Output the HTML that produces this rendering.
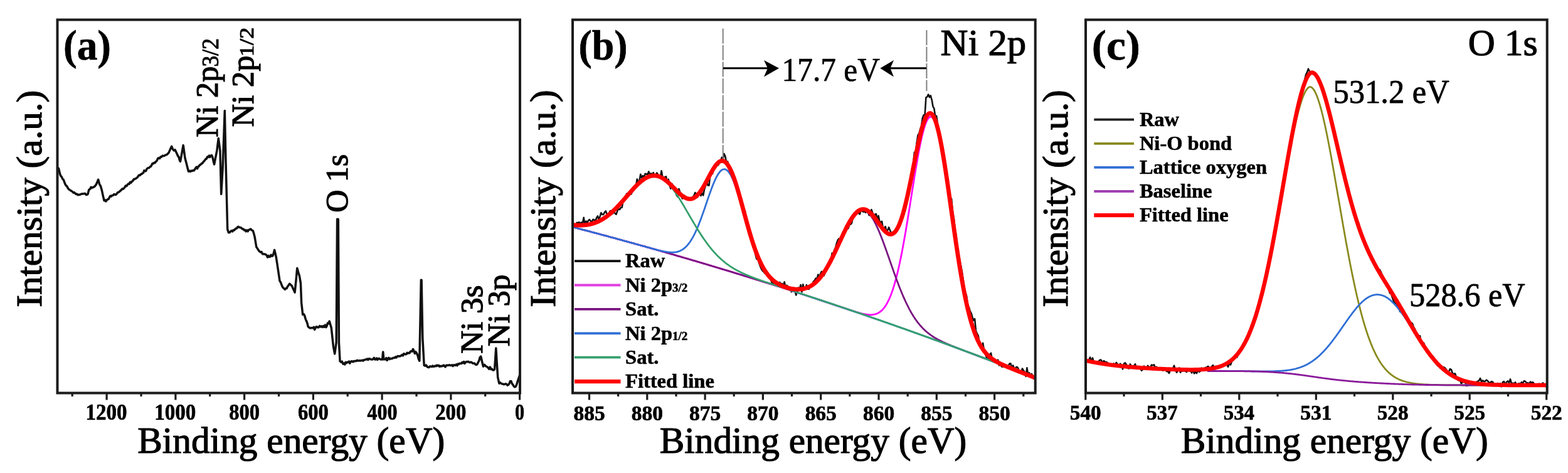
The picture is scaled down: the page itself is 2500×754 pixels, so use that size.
<!DOCTYPE html>
<html><head><meta charset="utf-8"><title>XPS spectra</title>
<style>
html,body{margin:0;padding:0;background:#fff;}
body{width:2500px;height:754px;overflow:hidden;}
svg{display:block;filter:blur(0.45px);}
text{fill:#000;stroke:#000;stroke-linejoin:round;}
.r{font-family:"Liberation Serif","Times New Roman",serif;font-weight:normal;}
.b{font-family:"Liberation Serif","Times New Roman",serif;font-weight:bold;}
.lg{font-family:"Liberation Serif","Times New Roman",serif;font-weight:bold;font-size:32.5px;}
.sub{font-size:19px;}
</style></head><body>
<svg width="2500" height="754" viewBox="0 0 2500 754">
<rect width="100%" height="100%" fill="#fff"/>
<clipPath id="clipa"><rect x="91.5" y="31.5" width="737.5" height="595.0"/></clipPath>
<clipPath id="clipb"><rect x="913.0" y="31.5" width="737.7" height="595.0"/></clipPath>
<clipPath id="clipc"><rect x="1731.0" y="31.5" width="735.6999999999998" height="595.0"/></clipPath>
<g id="curves">
<polyline clip-path="url(#clipa)" fill="none" stroke="#111" stroke-width="3.5" stroke-linejoin="round" points="90,265 91.8,267.1 93.5,268.5 95.5,277 96.8,280.3 98.2,281.7 99.8,285.2 101.3,286.5 102.9,291 104.3,294.3 105.7,296.1 107,297.3 108.4,300.2 109.9,302 111.4,302.8 112.8,303.9 114.3,304.7 115.8,305.8 117.2,307.3 118.6,306.8 120,308.4 121.4,309.5 122.8,309.2 124.2,310.7 125.6,310.3 127,310.5 128.5,309.8 130,308.9 131.4,309.1 132.9,309 134.4,308.6 135.8,308.5 137.2,310.5 138.6,310.4 140,309.5 141.8,302.4 143.7,301.2 145.1,298.4 146.5,299.6 147.9,298.6 149.3,298.4 151.2,296.8 153,294.7 154.8,290.7 156.7,286.3 158.6,293.7 160.4,296.5 162.2,302.7 164.1,311.4 166,319.7 167.4,318.8 168.8,321 170.1,319.1 171.5,317.9 173,317.3 174.5,314.7 176,312.2 177.5,312.9 179,311.4 180.4,311.3 181.8,309.6 183.1,310 184.5,310.5 186,309.1 187.5,306.9 189,306.5 190.5,305.4 192,304 193.4,302.9 194.8,301.1 196.2,301.2 197.6,300.3 198.9,298.5 200.3,296.1 201.7,296.7 203.1,294.7 204.6,293 206.1,293.4 207.5,290.2 209,291.2 210.5,289.1 212,288 213.5,285.5 215,285.4 216.5,284.7 218,283.5 219.3,282.7 220.6,280.3 221.9,279.1 223.3,279.5 224.6,277.7 225.9,277.4 227.2,276.1 228.5,275.7 229.9,271.9 231.2,272.8 232.5,272.7 233.8,269.8 235.2,268.1 236.5,267.8 237.8,267.5 239.2,265.8 240.5,265.4 241.9,262.8 243.2,260.4 244.6,260.8 245.9,259.3 247.3,259.5 248.6,257.5 250.1,256.2 251.6,252.7 253,251.7 254.5,252.6 256,250.1 257.5,250.3 259,248.3 260.4,248.4 261.9,248.4 263.4,247.3 264.8,246.9 266.2,246.4 267.6,244.8 269,243.6 270.5,240.1 272.1,236.5 273.6,233.4 275.5,237.8 277.3,239.9 279.1,238.8 281,242.7 282.3,245.5 283.6,248.7 284.9,250 286.2,254.9 287.5,257.5 289.1,248.9 290.6,240.2 292.2,231.6 293.6,241.8 295,252 296.4,257.3 297.8,262.6 299.1,268 300.5,273.3 302,272.2 303.5,273.5 305,272.1 306.5,272.6 308,271.5 309.3,271.9 310.6,270.1 311.9,267.8 313.3,266.1 314.6,268.8 315.9,265.8 317.2,265 318.5,262.9 319.9,262.5 321.2,260.8 322.5,260.6 323.8,258.4 325.2,257 326.5,255.7 327.9,253.4 329.3,253.2 330.6,250 332,250.4 333.4,248.1 334.8,250.5 336.2,247.9 337.6,247.6 339,251 340.3,257.2 341.6,262 343,254.6 344.5,247.2 345.9,239.8 348.3,220.5 350.9,240 352.7,309.5 355.1,267.7 356.7,222.1 358.3,176.5 359.9,253.7 361.3,309.5 362.7,365.4 364.4,370.8 366.1,370.6 367.6,368.8 369.1,367.7 370.6,369 372.1,366.7 373.6,366.9 374.9,365.2 376.2,364.3 377.5,364.1 378.8,362 380.1,361.3 381.4,362.4 382.7,362.6 384,362.7 385.3,364 386.6,365.1 388,365 389.4,367 390.7,366.6 392.1,368.8 393.6,366.9 395.1,368.9 396.6,366.5 398.1,365.8 399.6,365.1 401.5,367 403.3,367.8 404.6,372 406,377.1 407.4,385.5 408.8,393.8 410.6,396.3 412.5,399.4 414,401 415.5,402 417,401.5 418.5,404.8 420,405 421.3,405 422.7,405.2 424,406 425.3,407.2 426.6,410.1 428,407.6 429.3,409.6 430.7,409.3 432.1,406.3 433.4,408.2 434.8,407.8 436.2,404.1 437.6,398.5 439,404.2 440.4,410.5 441.8,419.8 443.2,429.1 444.6,438.4 446,447.7 447.4,449.8 448.8,453.5 450.1,456.8 451.5,458.8 452.9,459.8 454.3,461.4 455.7,459.7 457.1,459.7 458.6,456.6 460.2,454.6 461.7,452.3 463.6,454.1 465.5,456 467,459.5 468.6,462.8 470.1,466.2 472,446.9 473.8,427.5 475.6,433.9 477.5,440 479.4,451.4 480.6,482.4 482.7,501.5 484.3,500.8 485.9,503.7 487.2,508.8 488.5,511.5 489.9,515.1 491.2,520.6 492.8,521.8 494.4,523.1 496,522.7 497.6,522.7 498.9,522.8 500.2,521.4 501.6,525.5 502.9,523.2 504.2,520.8 505.6,521.1 506.9,521.9 508.2,521.7 509.7,519.6 511.2,521 512.6,519.9 514.1,521.4 515.6,519.6 517,521.4 518.5,518 519.9,521.7 521.2,519.3 522.5,515.1 523.9,515.7 525.2,512.1 526.8,517.6 528.3,522.7 529.9,537.6 531.5,552.5 533.7,564.1 536.2,546.1 537.6,349.3 539.3,349.5 540.4,546 542.1,575.8 543.7,577.2 545.3,576.2 546.9,580.2 548.5,579 549.8,581 551.1,577.3 552.5,578.6 553.8,577.2 555.1,577.7 556.5,576 557.8,579.2 559.1,576.9 560.4,575.7 561.7,576.2 563,576.9 564.3,575.5 565.6,575.8 566.9,575.3 568.3,575.6 569.6,574.3 570.9,574.9 572.2,575 573.5,574.7 574.8,574.9 576.1,574.7 577.5,574.2 578.8,575.1 580.2,573.8 581.5,573.8 582.9,573 584.2,573 585.6,572 586.9,573.7 588.3,571.7 589.6,572 591,572.6 592.3,573 593.7,573 595,572.2 596.4,570.4 597.7,573.1 599.1,572.9 600.4,571 601.8,573.4 603.1,571.8 604.5,571.4 605.8,572.6 607.7,572.9 609.6,572.9 610.7,560.9 611.9,572.9 613.2,572.6 614.6,572.9 615.9,570.7 617.2,574.4 618.6,571.6 619.9,570.4 621.2,572.6 622.6,571.4 623.9,571.7 625.2,571.7 626.5,570.5 627.9,570.4 629.2,570.4 630.5,568.9 631.8,570 633.2,568.4 634.5,567.5 635.8,568.1 637.1,567.8 638.5,567.8 639.8,566.6 641.1,565.6 642.5,566.8 643.8,563.8 645.1,564.2 646.5,564.9 647.8,564.5 649.1,562.3 650.4,563.2 651.8,562.4 653.1,562.8 654.4,560.2 655.7,559.8 657.1,560.2 658.4,556.5 659.7,558.5 661.3,563.5 662.9,560.9 664.5,563.3 665.9,566.5 667.4,572.2 668.8,575.2 671.3,446.3 672.1,446.5 673.8,539.4 676.2,582.4 677.9,583.2 679.5,582 681.2,584.8 682.6,585.4 684.1,585.5 685.5,583.9 686.9,584 688.4,584.7 689.8,583.1 691.2,584.4 692.6,584.1 694.1,583 695.5,583.6 696.8,582 698.2,583.2 699.5,582.4 700.8,584.4 702.1,583.4 703.5,584.1 704.8,583.3 706.1,583.4 707.5,582.1 708.8,583.7 710.1,584.8 711.4,582.5 712.8,582.1 714.1,582.5 715.4,582.1 716.7,581.8 718.1,582.6 719.4,582.4 720.8,581.9 722.1,583.6 723.5,581.8 724.9,582 726.2,582.4 727.6,580.9 729,582.6 730.3,580.1 731.7,580.6 733,579.3 734.3,579.5 735.6,579.4 736.9,577.6 738.2,578.7 739.6,576.5 740.9,579.5 742.2,577.6 743.5,576.6 744.8,576.9 746.3,576.3 747.7,577.2 749.2,577.8 750.7,577.2 752.1,577.7 753.6,579.1 755.1,579.2 756.5,579.1 758,581 759.4,581.6 760.9,580.6 762.4,577.5 763.8,574.9 765.2,569.8 766.7,568.2 768.5,576.2 770.4,584.2 772.5,581.3 774,583.5 775.5,584.2 777,585 778.4,586.4 779.9,588.4 781.3,585 782.8,588.6 784.2,588 785.7,590 787.2,590 788.6,588.6 790.8,555 792.2,578.4 793.7,601.7 795.9,611.2 797.4,609.9 798.8,611 800.2,611.9 801.7,611.9 803.2,612.8 804.6,612.5 806.1,611.8 807.6,612.3 809,614.1 810.5,613.4 812,611.5 813.4,607.7 814.9,607.6 816.3,611.4 817.8,613.4 819.2,615.7 820.7,617 822.2,616.2 823.6,613.4 825.5,607.2 827.3,601.7 828.6,598"/>
<polyline clip-path="url(#clipb)" fill="none" stroke-linejoin="round" stroke="#111" stroke-width="2.6" points="914,355 915.9,360.7 917.7,360.8 919.6,354.8 921.4,355.4 923.3,354.1 925.1,357.3 927,354.3 928.8,356.6 930.7,346.8 932.5,358.8 934.4,352.5 936.2,354.9 938.1,351.5 939.9,350 941.8,352.6 943.6,353.7 945.5,349.9 947.3,350.2 949.2,353.2 951,347.4 952.9,344.4 954.7,350.2 956.6,345.1 958.4,339.2 960.3,341.9 962.1,342 964,338.4 965.8,336.5 967.7,341.2 969.5,343.5 971.4,338.7 973.2,336.1 975.1,339.6 976.9,340.6 978.8,337 980.6,340.2 982.5,341.7 984.3,336.3 986.2,332.3 988,334.1 989.9,330.8 991.7,330.7 993.6,319 995.4,318.2 997.3,314.7 999.1,308.8 1001,312.8 1002.8,311.6 1004.7,304.4 1006.5,309.3 1008.4,304.5 1010.2,300.9 1012.1,297.2 1013.9,296.3 1015.8,285.5 1017.6,290.1 1019.5,288 1021.3,277.7 1023.2,283.7 1025,280.1 1026.9,282.4 1028.7,276.9 1030.6,277.5 1032.4,278.2 1034.3,273.5 1036.1,278.8 1038,276.4 1039.8,278.7 1041.7,275.2 1043.5,280.9 1045.4,278.8 1047.2,275.6 1049.1,278.3 1050.9,280.7 1052.8,283.2 1054.6,272.2 1056.5,282.5 1058.3,282.6 1060.2,282.5 1062,281.4 1063.9,292.1 1065.7,285.8 1067.6,295.3 1069.4,300.8 1071.3,292.9 1073.1,299.8 1075,298.1 1076.8,305.2 1078.7,311 1080.5,313.8 1082.4,301 1084.2,306.3 1086.1,312 1087.9,316.6 1089.8,314.1 1091.6,311.8 1093.5,317.2 1095.3,317.4 1097.2,317.3 1099,315.2 1100.9,318.4 1102.7,316.8 1104.6,313.8 1106.4,312 1108.3,307 1110.1,309 1112,314.4 1113.8,308.6 1115.7,303.2 1117.5,312.1 1119.4,307.7 1121.2,311.5 1123.1,301.6 1124.9,296.7 1126.8,289.5 1128.6,295.4 1130.5,295.6 1132.3,279.2 1134.2,276 1136,276.9 1137.9,268.7 1139.7,267.8 1141.6,264.5 1143.4,263.3 1145.3,263.2 1147.1,256.3 1149,257.1 1150.8,250.8 1152.7,253.2 1154.5,245.1 1156.4,249.2 1158.2,259.5 1160.1,257.4 1161.9,264.9 1163.8,268.2 1165.6,275 1167.5,277.7 1169.3,283.4 1171.2,284.7 1173,288.3 1174.9,293.9 1176.7,300.6 1178.6,304 1180.4,312.1 1182.3,320.2 1184.1,328.4 1186,333.7 1187.8,335.8 1189.7,350.1 1191.5,358.5 1193.4,368.2 1195.2,372.4 1197.1,373.7 1198.9,378.9 1200.8,394.3 1202.6,395.6 1204.5,405.7 1206.3,413 1208.2,408.5 1210,418.5 1211.9,423.7 1213.7,428.3 1215.6,431.6 1217.4,433.1 1219.3,435.3 1221.1,431.3 1223,438.4 1224.8,438.5 1226.7,443.9 1228.5,443.8 1230.4,449.8 1232.2,452.2 1234.1,451.7 1235.9,452.6 1237.8,452.3 1239.6,450.5 1241.5,451.4 1243.3,450 1245.2,453.2 1247,452.2 1248.9,455.1 1250.7,449.4 1252.6,459 1254.4,454.8 1256.3,456.7 1258.1,460.3 1260,460.7 1261.8,465.2 1263.7,463.3 1265.5,462.4 1267.4,463.3 1269.2,470.5 1271.1,464.6 1272.9,458.6 1274.8,461.1 1276.6,454 1278.5,465.4 1280.3,453.3 1282.2,460.8 1284,461.4 1285.9,454.2 1287.7,459.8 1289.6,461 1291.4,457.2 1293.3,454.1 1295.1,454 1297,448.8 1298.8,447.2 1300.7,443.7 1302.5,444.8 1304.4,437.7 1306.2,442.5 1308.1,436.5 1309.9,432.8 1311.8,436.5 1313.6,439.4 1315.5,434.7 1317.3,427.1 1319.2,428.9 1321,421.8 1322.9,419.7 1324.7,416.6 1326.6,403.6 1328.4,407.9 1330.3,398.6 1332.1,394.9 1334,387.4 1335.8,382.7 1337.7,380.4 1339.5,382.8 1341.4,382.4 1343.2,373.3 1345.1,374.7 1346.9,367.7 1348.8,359.7 1350.6,365.1 1352.5,363.9 1354.3,358.2 1356.2,357.8 1358,355.4 1359.9,346.8 1361.7,341.2 1363.6,342.7 1365.4,340 1367.3,337.2 1369.1,340.2 1371,341.4 1372.8,332.9 1374.7,336.6 1376.5,337.7 1378.4,337.3 1380.2,338.9 1382.1,334.2 1383.9,338.5 1385.8,343.2 1387.6,338.9 1389.5,334.2 1391.3,339.4 1393.2,343.2 1395,342 1396.9,341 1398.7,351.2 1400.6,343.9 1402.4,353.1 1404.3,354.2 1406.1,352.9 1408,364.5 1409.8,364.1 1411.7,361 1413.5,369.2 1415.4,366.8 1417.2,362.4 1419.1,367.4 1420.9,371 1422.8,372 1424.6,369.6 1426.5,367.9 1428.3,367.6 1430.2,362.8 1432,364.7 1433.9,357.5 1435.7,353.8 1437.6,350 1439.4,339 1441.3,334.5 1443.1,336.1 1445,324.4 1446.8,313.5 1448.7,305.9 1450.5,292 1452.4,283.2 1454.2,268.2 1456.1,260.3 1457.9,242.9 1459.8,243.4 1461.6,227.6 1463.5,215.6 1465.3,213.1 1467.2,205.8 1469,200.7 1470.9,187.9 1472.7,183.4 1474.6,183.5 1476.4,155.3 1478.3,154.4 1480.1,150.6 1482,155.1 1483.8,152.3 1485.7,159.3 1487.5,169.7 1489.4,173.2 1491.2,185.6 1493.1,184.8 1494.9,196.9 1496.8,216.9 1498.6,214.7 1500.5,225.8 1502.3,240.7 1504.2,252.4 1506,266.8 1507.9,275 1509.7,282.1 1511.6,295.7 1513.4,314.8 1515.3,320.4 1517.1,316.9 1519,338.1 1520.8,347.6 1522.7,365.3 1524.5,374.8 1526.4,394.6 1528.2,402.9 1530.1,414.3 1531.9,422.9 1533.8,433.1 1535.6,445.2 1537.5,458.9 1539.3,466.1 1541.2,472.1 1543,486.3 1544.9,490 1546.7,495.9 1548.6,499.4 1550.4,505.7 1552.3,510.7 1554.1,508.2 1556,527.4 1557.8,531.7 1559.7,535.1 1561.5,545.7 1563.4,549.1 1565.2,553.4 1567.1,546.8 1568.9,557.8 1570.8,563 1572.6,569.1 1574.5,572.1 1576.3,572.6 1578.2,565.1 1580,562.8 1581.9,573.9 1583.7,573 1585.6,577.6 1587.4,575.1 1589.3,578 1591.1,573.7 1593,582.4 1594.8,580.5 1596.7,584.2 1598.5,584.9 1600.4,582.8 1602.2,584.1 1604.1,582.5 1605.9,584.7 1607.8,583.4 1609.6,579.5 1611.5,579.5 1613.3,588.3 1615.2,582.5 1617,587.6 1618.9,586.9 1620.7,584.9 1622.6,585.7 1624.4,590 1626.3,591.5 1628.1,593.6 1630,587.5 1631.8,590.6 1633.7,593.1 1635.5,600 1637.4,586.4 1639.2,597.1 1641.1,594.3 1642.9,598.5 1644.8,595.9 1646.6,599.7 1648.5,604.6"/>
<polyline clip-path="url(#clipb)" fill="none" stroke-linejoin="round" stroke="#ff00ff" stroke-width="2.8" points="914,362.2 915,362.4 916,362.7 917,363 918,363.2 919,363.5 920,363.7 921,364 922,364.3 923,364.5 924,364.8 925,365 926,365.3 927,365.6 928,365.8 929,366.1 930,366.3 931,366.6 932,366.9 933,367.1 934,367.4 935,367.7 936,367.9 937,368.2 938,368.5 939,368.7 940,369 941,369.2 942,369.5 943,369.8 944,370 945,370.3 946,370.6 947,370.8 948,371.1 949,371.4 950,371.6 951,371.9 952,372.2 953,372.4 954,372.7 955,373 956,373.2 957,373.5 958,373.8 959,374 960,374.3 961,374.6 962,374.8 963,375.1 964,375.4 965,375.7 966,375.9 967,376.2 968,376.5 969,376.7 970,377 971,377.3 972,377.5 973,377.8 974,378.1 975,378.3 976,378.6 977,378.9 978,379.2 979,379.4 980,379.7 981,380 982,380.2 983,380.5 984,380.8 985,381.1 986,381.3 987,381.6 988,381.9 989,382.2 990,382.4 991,382.7 992,383 993,383.3 994,383.5 995,383.8 996,384.1 997,384.3 998,384.6 999,384.9 1000,385.2 1001,385.4 1002,385.7 1003,386 1004,386.3 1005,386.6 1006,386.8 1007,387.1 1008,387.4 1009,387.7 1010,387.9 1011,388.2 1012,388.5 1013,388.8 1014,389 1015,389.3 1016,389.6 1017,389.9 1018,390.2 1019,390.4 1020,390.7 1021,391 1022,391.3 1023,391.5 1024,391.8 1025,392.1 1026,392.4 1027,392.7 1028,392.9 1029,393.2 1030,393.5 1031,393.8 1032,394.1 1033,394.4 1034,394.6 1035,394.9 1036,395.2 1037,395.5 1038,395.8 1039,396 1040,396.3 1041,396.6 1042,396.9 1043,397.2 1044,397.5 1045,397.7 1046,398 1047,398.3 1048,398.6 1049,398.9 1050,399.2 1051,399.4 1052,399.7 1053,400 1054,400.3 1055,400.6 1056,400.9 1057,401.2 1058,401.4 1059,401.7 1060,402 1061,402.3 1062,402.6 1063,402.9 1064,403.2 1065,403.4 1066,403.7 1067,404 1068,404.3 1069,404.6 1070,404.9 1071,405.2 1072,405.5 1073,405.7 1074,406 1075,406.3 1076,406.6 1077,406.9 1078,407.2 1079,407.5 1080,407.8 1081,408.1 1082,408.3 1083,408.6 1084,408.9 1085,409.2 1086,409.5 1087,409.8 1088,410.1 1089,410.4 1090,410.7 1091,411 1092,411.3 1093,411.5 1094,411.8 1095,412.1 1096,412.4 1097,412.7 1098,413 1099,413.3 1100,413.6 1101,413.9 1102,414.2 1103,414.5 1104,414.8 1105,415.1 1106,415.4 1107,415.6 1108,415.9 1109,416.2 1110,416.5 1111,416.8 1112,417.1 1113,417.4 1114,417.7 1115,418 1116,418.3 1117,418.6 1118,418.9 1119,419.2 1120,419.5 1121,419.8 1122,420.1 1123,420.4 1124,420.7 1125,421 1126,421.3 1127,421.6 1128,421.9 1129,422.2 1130,422.5 1131,422.8 1132,423.1 1133,423.4 1134,423.7 1135,424 1136,424.3 1137,424.6 1138,424.9 1139,425.2 1140,425.5 1141,425.8 1142,426.1 1143,426.4 1144,426.7 1145,427 1146,427.3 1147,427.6 1148,427.9 1149,428.2 1150,428.5 1151,428.8 1152,429.1 1153,429.4 1154,429.7 1155,430 1156,430.3 1157,430.6 1158,430.9 1159,431.2 1160,431.5 1161,431.8 1162,432.1 1163,432.4 1164,432.7 1165,433 1166,433.3 1167,433.6 1168,433.9 1169,434.3 1170,434.6 1171,434.9 1172,435.2 1173,435.5 1174,435.8 1175,436.1 1176,436.4 1177,436.7 1178,437 1179,437.3 1180,437.6 1181,437.9 1182,438.2 1183,438.5 1184,438.9 1185,439.2 1186,439.5 1187,439.8 1188,440.1 1189,440.4 1190,440.7 1191,441 1192,441.3 1193,441.6 1194,441.9 1195,442.3 1196,442.6 1197,442.9 1198,443.2 1199,443.5 1200,443.8 1201,444.1 1202,444.4 1203,444.7 1204,445.1 1205,445.4 1206,445.7 1207,446 1208,446.3 1209,446.6 1210,446.9 1211,447.2 1212,447.6 1213,447.9 1214,448.2 1215,448.5 1216,448.8 1217,449.1 1218,449.4 1219,449.8 1220,450.1 1221,450.4 1222,450.7 1223,451 1224,451.3 1225,451.6 1226,452 1227,452.3 1228,452.6 1229,452.9 1230,453.2 1231,453.5 1232,453.9 1233,454.2 1234,454.5 1235,454.8 1236,455.1 1237,455.5 1238,455.8 1239,456.1 1240,456.4 1241,456.7 1242,457 1243,457.4 1244,457.7 1245,458 1246,458.3 1247,458.6 1248,459 1249,459.3 1250,459.6 1251,459.9 1252,460.2 1253,460.6 1254,460.9 1255,461.2 1256,461.5 1257,461.8 1258,462.2 1259,462.5 1260,462.8 1261,463.1 1262,463.5 1263,463.8 1264,464.1 1265,464.4 1266,464.7 1267,465.1 1268,465.4 1269,465.7 1270,466 1271,466.4 1272,466.7 1273,467 1274,467.3 1275,467.7 1276,468 1277,468.3 1278,468.6 1279,469 1280,469.3 1281,469.6 1282,469.9 1283,470.3 1284,470.6 1285,470.9 1286,471.2 1287,471.6 1288,471.9 1289,472.2 1290,472.5 1291,472.9 1292,473.2 1293,473.5 1294,473.9 1295,474.2 1296,474.5 1297,474.8 1298,475.2 1299,475.5 1300,475.8 1301,476.2 1302,476.5 1303,476.8 1304,477.2 1305,477.5 1306,477.8 1307,478.1 1308,478.5 1309,478.8 1310,479.1 1311,479.5 1312,479.8 1313,480.1 1314,480.5 1315,480.8 1316,481.1 1317,481.5 1318,481.8 1319,482.1 1320,482.5 1321,482.8 1322,483.1 1323,483.5 1324,483.8 1325,484.1 1326,484.5 1327,484.8 1328,485.1 1329,485.5 1330,485.8 1331,486.1 1332,486.5 1333,486.8 1334,487.1 1335,487.5 1336,487.8 1337,488.1 1338,488.5 1339,488.8 1340,489.1 1341,489.5 1342,489.8 1343,490.1 1344,490.5 1345,490.8 1346,491.1 1347,491.5 1348,491.8 1349,492.1 1350,492.5 1351,492.8 1352,493.1 1353,493.5 1354,493.8 1355,494.1 1356,494.4 1357,494.8 1358,495.1 1359,495.4 1360,495.7 1361,496 1362,496.4 1363,496.7 1364,497 1365,497.3 1366,497.6 1367,497.9 1368,498.2 1369,498.5 1370,498.7 1371,499 1372,499.3 1373,499.5 1374,499.8 1375,500 1376,500.3 1377,500.5 1378,500.7 1379,500.9 1380,501.1 1381,501.2 1382,501.4 1383,501.5 1384,501.6 1385,501.7 1386,501.8 1387,501.8 1388,501.8 1389,501.8 1390,501.8 1391,501.7 1392,501.6 1393,501.4 1394,501.2 1395,501 1396,500.7 1397,500.4 1398,500 1399,499.6 1400,499.1 1401,498.5 1402,497.9 1403,497.2 1404,496.4 1405,495.6 1406,494.7 1407,493.7 1408,492.6 1409,491.4 1410,490.1 1411,488.7 1412,487.3 1413,485.7 1414,484 1415,482.1 1416,480.2 1417,478.1 1418,476 1419,473.6 1420,471.2 1421,468.6 1422,465.9 1423,463 1424,460 1425,456.8 1426,453.5 1427,450 1428,446.4 1429,442.6 1430,438.7 1431,434.7 1432,430.4 1433,426 1434,421.5 1435,416.8 1436,412 1437,407.1 1438,401.9 1439,396.7 1440,391.3 1441,385.8 1442,380.2 1443,374.5 1444,368.7 1445,362.8 1446,356.8 1447,350.7 1448,344.5 1449,338.3 1450,332.1 1451,325.8 1452,319.4 1453,313.1 1454,306.8 1455,300.5 1456,294.2 1457,288 1458,281.8 1459,275.7 1460,269.6 1461,263.7 1462,257.9 1463,252.2 1464,246.7 1465,241.3 1466,236.1 1467,231.1 1468,226.3 1469,221.7 1470,217.3 1471,213.2 1472,209.3 1473,205.7 1474,202.4 1475,199.3 1476,196.6 1477,194.1 1478,192 1479,190.2 1480,188.7 1481,187.6 1482,186.7 1483,186.3 1484,186.1 1485,186.3 1486,186.9 1487,187.8 1488,189 1489,190.6 1490,192.5 1491,194.8 1492,197.3 1493,200.2 1494,203.4 1495,206.9 1496,210.7 1497,214.8 1498,219.2 1499,223.8 1500,228.7 1501,233.8 1502,239.1 1503,244.7 1504,250.5 1505,256.4 1506,262.5 1507,268.8 1508,275.2 1509,281.8 1510,288.4 1511,295.2 1512,302 1513,309 1514,315.9 1515,322.9 1516,330 1517,337 1518,344.1 1519,351.1 1520,358.1 1521,365.1 1522,372 1523,378.9 1524,385.7 1525,392.4 1526,399.1 1527,405.6 1528,412.1 1529,418.4 1530,424.6 1531,430.7 1532,436.6 1533,442.4 1534,448.1 1535,453.6 1536,459 1537,464.3 1538,469.3 1539,474.3 1540,479.1 1541,483.7 1542,488.2 1543,492.5 1544,496.7 1545,500.7 1546,504.6 1547,508.3 1548,511.9 1549,515.3 1550,518.6 1551,521.8 1552,524.8 1553,527.7 1554,530.5 1555,533.1 1556,535.7 1557,538.1 1558,540.4 1559,542.6 1560,544.7 1561,546.7 1562,548.6 1563,550.4 1564,552.1 1565,553.7 1566,555.3 1567,556.8 1568,558.2 1569,559.5 1570,560.8 1571,562 1572,563.2 1573,564.3 1574,565.3 1575,566.3 1576,567.3 1577,568.2 1578,569.1 1579,569.9 1580,570.7 1581,571.5 1582,572.2 1583,572.9 1584,573.6 1585,574.2 1586,574.9 1587,575.5 1588,576.1 1589,576.7 1590,577.2 1591,577.8 1592,578.3 1593,578.8 1594,579.3 1595,579.8 1596,580.3 1597,580.8 1598,581.2 1599,581.7 1600,582.1 1601,582.6 1602,583 1603,583.4 1604,583.9 1605,584.3 1606,584.7 1607,585.1 1608,585.5 1609,585.9 1610,586.4 1611,586.8 1612,587.2 1613,587.6 1614,588 1615,588.4 1616,588.8 1617,589.2 1618,589.6 1619,589.9 1620,590.3 1621,590.7 1622,591.1 1623,591.5 1624,591.9 1625,592.3 1626,592.7 1627,593.1 1628,593.5 1629,593.9 1630,594.3 1631,594.6 1632,595 1633,595.4 1634,595.8 1635,596.2 1636,596.6 1637,597 1638,597.4 1639,597.8 1640,598.2 1641,598.6 1642,598.9 1643,599.3 1644,599.7 1645,600.1 1646,600.5 1647,600.9 1648,601.3 1649,601.7 1650,602.1"/>
<polyline clip-path="url(#clipb)" fill="none" stroke-linejoin="round" stroke="#7a1480" stroke-width="2.8" points="914,362.2 915,362.4 916,362.7 917,363 918,363.2 919,363.5 920,363.7 921,364 922,364.3 923,364.5 924,364.8 925,365 926,365.3 927,365.6 928,365.8 929,366.1 930,366.3 931,366.6 932,366.9 933,367.1 934,367.4 935,367.7 936,367.9 937,368.2 938,368.5 939,368.7 940,369 941,369.2 942,369.5 943,369.8 944,370 945,370.3 946,370.6 947,370.8 948,371.1 949,371.4 950,371.6 951,371.9 952,372.2 953,372.4 954,372.7 955,373 956,373.2 957,373.5 958,373.8 959,374 960,374.3 961,374.6 962,374.8 963,375.1 964,375.4 965,375.7 966,375.9 967,376.2 968,376.5 969,376.7 970,377 971,377.3 972,377.5 973,377.8 974,378.1 975,378.3 976,378.6 977,378.9 978,379.2 979,379.4 980,379.7 981,380 982,380.2 983,380.5 984,380.8 985,381.1 986,381.3 987,381.6 988,381.9 989,382.2 990,382.4 991,382.7 992,383 993,383.3 994,383.5 995,383.8 996,384.1 997,384.3 998,384.6 999,384.9 1000,385.2 1001,385.4 1002,385.7 1003,386 1004,386.3 1005,386.6 1006,386.8 1007,387.1 1008,387.4 1009,387.7 1010,387.9 1011,388.2 1012,388.5 1013,388.8 1014,389 1015,389.3 1016,389.6 1017,389.9 1018,390.2 1019,390.4 1020,390.7 1021,391 1022,391.3 1023,391.5 1024,391.8 1025,392.1 1026,392.4 1027,392.7 1028,392.9 1029,393.2 1030,393.5 1031,393.8 1032,394.1 1033,394.4 1034,394.6 1035,394.9 1036,395.2 1037,395.5 1038,395.8 1039,396 1040,396.3 1041,396.6 1042,396.9 1043,397.2 1044,397.5 1045,397.7 1046,398 1047,398.3 1048,398.6 1049,398.9 1050,399.2 1051,399.4 1052,399.7 1053,400 1054,400.3 1055,400.6 1056,400.9 1057,401.2 1058,401.4 1059,401.7 1060,402 1061,402.3 1062,402.6 1063,402.9 1064,403.2 1065,403.4 1066,403.7 1067,404 1068,404.3 1069,404.6 1070,404.9 1071,405.2 1072,405.5 1073,405.7 1074,406 1075,406.3 1076,406.6 1077,406.9 1078,407.2 1079,407.5 1080,407.8 1081,408.1 1082,408.3 1083,408.6 1084,408.9 1085,409.2 1086,409.5 1087,409.8 1088,410.1 1089,410.4 1090,410.7 1091,411 1092,411.3 1093,411.5 1094,411.8 1095,412.1 1096,412.4 1097,412.7 1098,413 1099,413.3 1100,413.6 1101,413.9 1102,414.2 1103,414.5 1104,414.8 1105,415.1 1106,415.4 1107,415.6 1108,415.9 1109,416.2 1110,416.5 1111,416.8 1112,417.1 1113,417.4 1114,417.7 1115,418 1116,418.3 1117,418.6 1118,418.9 1119,419.2 1120,419.5 1121,419.8 1122,420.1 1123,420.4 1124,420.7 1125,421 1126,421.3 1127,421.6 1128,421.9 1129,422.2 1130,422.5 1131,422.8 1132,423.1 1133,423.4 1134,423.7 1135,424 1136,424.3 1137,424.6 1138,424.9 1139,425.2 1140,425.5 1141,425.8 1142,426.1 1143,426.4 1144,426.7 1145,427 1146,427.3 1147,427.6 1148,427.9 1149,428.2 1150,428.5 1151,428.8 1152,429.1 1153,429.4 1154,429.7 1155,430 1156,430.3 1157,430.6 1158,430.9 1159,431.2 1160,431.5 1161,431.8 1162,432.1 1163,432.4 1164,432.7 1165,433 1166,433.3 1167,433.6 1168,433.9 1169,434.3 1170,434.6 1171,434.9 1172,435.2 1173,435.5 1174,435.8 1175,436.1 1176,436.4 1177,436.7 1178,437 1179,437.3 1180,437.6 1181,437.9 1182,438.2 1183,438.5 1184,438.9 1185,439.2 1186,439.5 1187,439.8 1188,440.1 1189,440.4 1190,440.7 1191,441 1192,441.3 1193,441.6 1194,441.9 1195,442.3 1196,442.6 1197,442.9 1198,443.2 1199,443.5 1200,443.8 1201,444.1 1202,444.4 1203,444.7 1204,445 1205,445.4 1206,445.7 1207,446 1208,446.3 1209,446.6 1210,446.9 1211,447.2 1212,447.5 1213,447.8 1214,448.1 1215,448.5 1216,448.8 1217,449.1 1218,449.4 1219,449.7 1220,450 1221,450.3 1222,450.6 1223,450.9 1224,451.2 1225,451.5 1226,451.8 1227,452.1 1228,452.4 1229,452.7 1230,453 1231,453.3 1232,453.6 1233,453.9 1234,454.2 1235,454.5 1236,454.8 1237,455.1 1238,455.4 1239,455.7 1240,456 1241,456.2 1242,456.5 1243,456.8 1244,457 1245,457.3 1246,457.6 1247,457.8 1248,458.1 1249,458.3 1250,458.6 1251,458.8 1252,459 1253,459.3 1254,459.5 1255,459.7 1256,459.9 1257,460.1 1258,460.3 1259,460.4 1260,460.6 1261,460.8 1262,460.9 1263,461 1264,461.2 1265,461.3 1266,461.4 1267,461.4 1268,461.5 1269,461.6 1270,461.6 1271,461.6 1272,461.6 1273,461.6 1274,461.6 1275,461.5 1276,461.4 1277,461.3 1278,461.2 1279,461 1280,460.9 1281,460.7 1282,460.4 1283,460.2 1284,459.9 1285,459.6 1286,459.3 1287,458.9 1288,458.5 1289,458 1290,457.6 1291,457.1 1292,456.5 1293,455.9 1294,455.3 1295,454.7 1296,454 1297,453.2 1298,452.5 1299,451.6 1300,450.8 1301,449.9 1302,448.9 1303,447.9 1304,446.9 1305,445.8 1306,444.7 1307,443.5 1308,442.3 1309,441 1310,439.7 1311,438.4 1312,437 1313,435.5 1314,434 1315,432.5 1316,430.9 1317,429.3 1318,427.6 1319,425.9 1320,424.2 1321,422.4 1322,420.5 1323,418.7 1324,416.8 1325,414.8 1326,412.9 1327,410.9 1328,408.9 1329,406.8 1330,404.7 1331,402.6 1332,400.5 1333,398.4 1334,396.2 1335,394.1 1336,391.9 1337,389.7 1338,387.6 1339,385.4 1340,383.2 1341,381 1342,378.9 1343,376.7 1344,374.6 1345,372.5 1346,370.4 1347,368.3 1348,366.3 1349,364.3 1350,362.4 1351,360.4 1352,358.6 1353,356.7 1354,355 1355,353.2 1356,351.6 1357,350 1358,348.4 1359,347 1360,345.6 1361,344.2 1362,343 1363,341.8 1364,340.7 1365,339.7 1366,338.8 1367,338 1368,337.2 1369,336.6 1370,336 1371,335.6 1372,335.2 1373,335 1374,334.8 1375,334.8 1376,334.8 1377,335 1378,335.2 1379,335.6 1380,336.1 1381,336.6 1382,337.3 1383,338.1 1384,338.9 1385,339.9 1386,341 1387,342.1 1388,343.4 1389,344.8 1390,346.2 1391,347.7 1392,349.4 1393,351.1 1394,352.9 1395,354.8 1396,356.7 1397,358.8 1398,360.9 1399,363.1 1400,365.3 1401,367.6 1402,370 1403,372.4 1404,374.9 1405,377.4 1406,380 1407,382.6 1408,385.3 1409,388 1410,390.7 1411,393.4 1412,396.2 1413,399 1414,401.9 1415,404.7 1416,407.5 1417,410.4 1418,413.3 1419,416.1 1420,419 1421,421.8 1422,424.7 1423,427.5 1424,430.4 1425,433.2 1426,436 1427,438.8 1428,441.5 1429,444.2 1430,446.9 1431,449.6 1432,452.3 1433,454.9 1434,457.4 1435,460 1436,462.5 1437,464.9 1438,467.4 1439,469.8 1440,472.1 1441,474.4 1442,476.6 1443,478.9 1444,481 1445,483.1 1446,485.2 1447,487.2 1448,489.2 1449,491.2 1450,493.1 1451,494.9 1452,496.7 1453,498.5 1454,500.2 1455,501.8 1456,503.5 1457,505 1458,506.6 1459,508.1 1460,509.5 1461,510.9 1462,512.3 1463,513.6 1464,514.9 1465,516.2 1466,517.4 1467,518.6 1468,519.7 1469,520.8 1470,521.9 1471,523 1472,524 1473,525 1474,525.9 1475,526.9 1476,527.8 1477,528.7 1478,529.5 1479,530.3 1480,531.1 1481,531.9 1482,532.7 1483,533.4 1484,534.1 1485,534.8 1486,535.5 1487,536.2 1488,536.8 1489,537.5 1490,538.1 1491,538.7 1492,539.3 1493,539.8 1494,540.4 1495,541 1496,541.5 1497,542 1498,542.5 1499,543 1500,543.5 1501,544 1502,544.5 1503,545 1504,545.5 1505,545.9 1506,546.4 1507,546.8 1508,547.3 1509,547.7 1510,548.1 1511,548.6 1512,549 1513,549.4 1514,549.8 1515,550.2 1516,550.7 1517,551.1 1518,551.5 1519,551.9 1520,552.3 1521,552.7 1522,553.1 1523,553.5 1524,553.9 1525,554.2 1526,554.6 1527,555 1528,555.4 1529,555.8 1530,556.2 1531,556.6 1532,556.9 1533,557.3 1534,557.7 1535,558.1 1536,558.5 1537,558.8 1538,559.2 1539,559.6 1540,560 1541,560.3 1542,560.7 1543,561.1 1544,561.5 1545,561.9 1546,562.2 1547,562.6 1548,563 1549,563.4 1550,563.7 1551,564.1 1552,564.5 1553,564.9 1554,565.2 1555,565.6 1556,566 1557,566.4 1558,566.7 1559,567.1 1560,567.5 1561,567.9 1562,568.3 1563,568.6 1564,569 1565,569.4 1566,569.8 1567,570.1 1568,570.5 1569,570.9 1570,571.3 1571,571.7 1572,572 1573,572.4 1574,572.8 1575,573.2 1576,573.5 1577,573.9 1578,574.3 1579,574.7 1580,575.1 1581,575.4 1582,575.8 1583,576.2 1584,576.6 1585,577 1586,577.3 1587,577.7 1588,578.1 1589,578.5 1590,578.9 1591,579.3 1592,579.6 1593,580 1594,580.4 1595,580.8 1596,581.2 1597,581.5 1598,581.9 1599,582.3 1600,582.7 1601,583.1 1602,583.5 1603,583.8 1604,584.2 1605,584.6 1606,585 1607,585.4 1608,585.8 1609,586.1 1610,586.5 1611,586.9 1612,587.3 1613,587.7 1614,588.1 1615,588.5 1616,588.8 1617,589.2 1618,589.6 1619,590 1620,590.4 1621,590.8 1622,591.2 1623,591.6 1624,591.9 1625,592.3 1626,592.7 1627,593.1 1628,593.5 1629,593.9 1630,594.3 1631,594.7 1632,595 1633,595.4 1634,595.8 1635,596.2 1636,596.6 1637,597 1638,597.4 1639,597.8 1640,598.2 1641,598.6 1642,598.9 1643,599.3 1644,599.7 1645,600.1 1646,600.5 1647,600.9 1648,601.3 1649,601.7 1650,602.1"/>
<polyline clip-path="url(#clipb)" fill="none" stroke-linejoin="round" stroke="#2f6fd6" stroke-width="2.8" points="914,362.2 915,362.4 916,362.7 917,363 918,363.2 919,363.5 920,363.7 921,364 922,364.3 923,364.5 924,364.8 925,365 926,365.3 927,365.6 928,365.8 929,366.1 930,366.3 931,366.6 932,366.9 933,367.1 934,367.4 935,367.7 936,367.9 937,368.2 938,368.5 939,368.7 940,369 941,369.2 942,369.5 943,369.8 944,370 945,370.3 946,370.6 947,370.8 948,371.1 949,371.4 950,371.6 951,371.9 952,372.2 953,372.4 954,372.7 955,373 956,373.2 957,373.5 958,373.8 959,374 960,374.3 961,374.6 962,374.8 963,375.1 964,375.4 965,375.7 966,375.9 967,376.2 968,376.5 969,376.7 970,377 971,377.3 972,377.5 973,377.8 974,378.1 975,378.3 976,378.6 977,378.9 978,379.2 979,379.4 980,379.7 981,380 982,380.2 983,380.5 984,380.8 985,381.1 986,381.3 987,381.6 988,381.9 989,382.2 990,382.4 991,382.7 992,383 993,383.3 994,383.5 995,383.8 996,384.1 997,384.3 998,384.6 999,384.9 1000,385.2 1001,385.4 1002,385.7 1003,386 1004,386.3 1005,386.6 1006,386.8 1007,387.1 1008,387.4 1009,387.7 1010,387.9 1011,388.2 1012,388.5 1013,388.8 1014,389 1015,389.3 1016,389.6 1017,389.9 1018,390.2 1019,390.4 1020,390.7 1021,391 1022,391.3 1023,391.5 1024,391.8 1025,392.1 1026,392.4 1027,392.7 1028,392.9 1029,393.2 1030,393.5 1031,393.8 1032,394 1033,394.3 1034,394.6 1035,394.9 1036,395.1 1037,395.4 1038,395.7 1039,396 1040,396.2 1041,396.5 1042,396.8 1043,397 1044,397.3 1045,397.6 1046,397.8 1047,398.1 1048,398.3 1049,398.6 1050,398.8 1051,399.1 1052,399.3 1053,399.6 1054,399.8 1055,400 1056,400.2 1057,400.5 1058,400.7 1059,400.9 1060,401.1 1061,401.2 1062,401.4 1063,401.6 1064,401.7 1065,401.8 1066,402 1067,402.1 1068,402.1 1069,402.2 1070,402.3 1071,402.3 1072,402.3 1073,402.3 1074,402.2 1075,402.2 1076,402.1 1077,401.9 1078,401.8 1079,401.6 1080,401.3 1081,401.1 1082,400.7 1083,400.4 1084,400 1085,399.5 1086,399 1087,398.5 1088,397.9 1089,397.2 1090,396.5 1091,395.8 1092,394.9 1093,394 1094,393.1 1095,392 1096,390.9 1097,389.7 1098,388.5 1099,387.2 1100,385.8 1101,384.3 1102,382.7 1103,381.1 1104,379.4 1105,377.6 1106,375.7 1107,373.8 1108,371.8 1109,369.7 1110,367.5 1111,365.3 1112,362.9 1113,360.5 1114,358.1 1115,355.6 1116,353 1117,350.3 1118,347.7 1119,344.9 1120,342.1 1121,339.3 1122,336.4 1123,333.6 1124,330.7 1125,327.7 1126,324.8 1127,321.9 1128,318.9 1129,316 1130,313.1 1131,310.3 1132,307.4 1133,304.7 1134,301.9 1135,299.2 1136,296.6 1137,294.1 1138,291.7 1139,289.3 1140,287.1 1141,284.9 1142,282.9 1143,281 1144,279.2 1145,277.6 1146,276.1 1147,274.7 1148,273.5 1149,272.5 1150,271.6 1151,270.9 1152,270.3 1153,270 1154,269.8 1155,269.7 1156,269.9 1157,270.2 1158,270.7 1159,271.4 1160,272.3 1161,273.3 1162,274.5 1163,275.9 1164,277.4 1165,279.1 1166,280.9 1167,282.9 1168,285.1 1169,287.4 1170,289.8 1171,292.3 1172,295 1173,297.8 1174,300.7 1175,303.6 1176,306.7 1177,309.9 1178,313.1 1179,316.4 1180,319.7 1181,323.1 1182,326.6 1183,330.1 1184,333.6 1185,337.1 1186,340.6 1187,344.2 1188,347.7 1189,351.2 1190,354.8 1191,358.2 1192,361.7 1193,365.1 1194,368.5 1195,371.8 1196,375.1 1197,378.3 1198,381.5 1199,384.6 1200,387.7 1201,390.7 1202,393.6 1203,396.4 1204,399.2 1205,401.8 1206,404.5 1207,407 1208,409.4 1209,411.8 1210,414.1 1211,416.3 1212,418.5 1213,420.5 1214,422.5 1215,424.4 1216,426.2 1217,428 1218,429.7 1219,431.3 1220,432.9 1221,434.4 1222,435.8 1223,437.2 1224,438.5 1225,439.7 1226,440.9 1227,442 1228,443.1 1229,444.2 1230,445.2 1231,446.1 1232,447 1233,447.9 1234,448.7 1235,449.5 1236,450.3 1237,451 1238,451.7 1239,452.4 1240,453 1241,453.6 1242,454.2 1243,454.8 1244,455.4 1245,455.9 1246,456.4 1247,456.9 1248,457.4 1249,457.9 1250,458.3 1251,458.8 1252,459.2 1253,459.6 1254,460 1255,460.5 1256,460.8 1257,461.2 1258,461.6 1259,462 1260,462.4 1261,462.7 1262,463.1 1263,463.5 1264,463.8 1265,464.2 1266,464.5 1267,464.9 1268,465.2 1269,465.6 1270,465.9 1271,466.2 1272,466.6 1273,466.9 1274,467.3 1275,467.6 1276,467.9 1277,468.3 1278,468.6 1279,468.9 1280,469.2 1281,469.6 1282,469.9 1283,470.2 1284,470.6 1285,470.9 1286,471.2 1287,471.6 1288,471.9 1289,472.2 1290,472.5 1291,472.9 1292,473.2 1293,473.5 1294,473.9 1295,474.2 1296,474.5 1297,474.8 1298,475.2 1299,475.5 1300,475.8 1301,476.2 1302,476.5 1303,476.8 1304,477.1 1305,477.5 1306,477.8 1307,478.1 1308,478.5 1309,478.8 1310,479.1 1311,479.5 1312,479.8 1313,480.1 1314,480.5 1315,480.8 1316,481.1 1317,481.5 1318,481.8 1319,482.1 1320,482.5 1321,482.8 1322,483.1 1323,483.5 1324,483.8 1325,484.1 1326,484.5 1327,484.8 1328,485.1 1329,485.5 1330,485.8 1331,486.1 1332,486.5 1333,486.8 1334,487.1 1335,487.5 1336,487.8 1337,488.1 1338,488.5 1339,488.8 1340,489.1 1341,489.5 1342,489.8 1343,490.2 1344,490.5 1345,490.8 1346,491.2 1347,491.5 1348,491.8 1349,492.2 1350,492.5 1351,492.9 1352,493.2 1353,493.5 1354,493.9 1355,494.2 1356,494.6 1357,494.9 1358,495.2 1359,495.6 1360,495.9 1361,496.2 1362,496.6 1363,496.9 1364,497.3 1365,497.6 1366,498 1367,498.3 1368,498.6 1369,499 1370,499.3 1371,499.7 1372,500 1373,500.3 1374,500.7 1375,501 1376,501.4 1377,501.7 1378,502.1 1379,502.4 1380,502.7 1381,503.1 1382,503.4 1383,503.8 1384,504.1 1385,504.5 1386,504.8 1387,505.2 1388,505.5 1389,505.8 1390,506.2 1391,506.5 1392,506.9 1393,507.2 1394,507.6 1395,507.9 1396,508.3 1397,508.6 1398,509 1399,509.3 1400,509.7 1401,510 1402,510.3 1403,510.7 1404,511 1405,511.4 1406,511.7 1407,512.1 1408,512.4 1409,512.8 1410,513.1 1411,513.5 1412,513.8 1413,514.2 1414,514.5 1415,514.9 1416,515.2 1417,515.6 1418,515.9 1419,516.3 1420,516.6 1421,517 1422,517.3 1423,517.7 1424,518 1425,518.4 1426,518.7 1427,519.1 1428,519.4 1429,519.8 1430,520.1 1431,520.5 1432,520.9 1433,521.2 1434,521.6 1435,521.9 1436,522.3 1437,522.6 1438,523 1439,523.3 1440,523.7 1441,524 1442,524.4 1443,524.7 1444,525.1 1445,525.5 1446,525.8 1447,526.2 1448,526.5 1449,526.9 1450,527.2 1451,527.6 1452,528 1453,528.3 1454,528.7 1455,529 1456,529.4 1457,529.7 1458,530.1 1459,530.5 1460,530.8 1461,531.2 1462,531.5 1463,531.9 1464,532.2 1465,532.6 1466,533 1467,533.3 1468,533.7 1469,534 1470,534.4 1471,534.8 1472,535.1 1473,535.5 1474,535.8 1475,536.2 1476,536.6 1477,536.9 1478,537.3 1479,537.6 1480,538 1481,538.4 1482,538.7 1483,539.1 1484,539.5 1485,539.8 1486,540.2 1487,540.5 1488,540.9 1489,541.3 1490,541.6 1491,542 1492,542.4 1493,542.7 1494,543.1 1495,543.4 1496,543.8 1497,544.2 1498,544.5 1499,544.9 1500,545.3 1501,545.6 1502,546 1503,546.4 1504,546.7 1505,547.1 1506,547.5 1507,547.8 1508,548.2 1509,548.6 1510,548.9 1511,549.3 1512,549.7 1513,550 1514,550.4 1515,550.8 1516,551.1 1517,551.5 1518,551.9 1519,552.2 1520,552.6 1521,553 1522,553.4 1523,553.7 1524,554.1 1525,554.5 1526,554.8 1527,555.2 1528,555.6 1529,555.9 1530,556.3 1531,556.7 1532,557.1 1533,557.4 1534,557.8 1535,558.2 1536,558.5 1537,558.9 1538,559.3 1539,559.7 1540,560 1541,560.4 1542,560.8 1543,561.1 1544,561.5 1545,561.9 1546,562.3 1547,562.6 1548,563 1549,563.4 1550,563.8 1551,564.1 1552,564.5 1553,564.9 1554,565.3 1555,565.6 1556,566 1557,566.4 1558,566.8 1559,567.1 1560,567.5 1561,567.9 1562,568.3 1563,568.6 1564,569 1565,569.4 1566,569.8 1567,570.1 1568,570.5 1569,570.9 1570,571.3 1571,571.7 1572,572 1573,572.4 1574,572.8 1575,573.2 1576,573.5 1577,573.9 1578,574.3 1579,574.7 1580,575.1 1581,575.4 1582,575.8 1583,576.2 1584,576.6 1585,577 1586,577.3 1587,577.7 1588,578.1 1589,578.5 1590,578.9 1591,579.3 1592,579.6 1593,580 1594,580.4 1595,580.8 1596,581.2 1597,581.5 1598,581.9 1599,582.3 1600,582.7 1601,583.1 1602,583.5 1603,583.8 1604,584.2 1605,584.6 1606,585 1607,585.4 1608,585.8 1609,586.1 1610,586.5 1611,586.9 1612,587.3 1613,587.7 1614,588.1 1615,588.5 1616,588.8 1617,589.2 1618,589.6 1619,590 1620,590.4 1621,590.8 1622,591.2 1623,591.6 1624,591.9 1625,592.3 1626,592.7 1627,593.1 1628,593.5 1629,593.9 1630,594.3 1631,594.7 1632,595 1633,595.4 1634,595.8 1635,596.2 1636,596.6 1637,597 1638,597.4 1639,597.8 1640,598.2 1641,598.6 1642,598.9 1643,599.3 1644,599.7 1645,600.1 1646,600.5 1647,600.9 1648,601.3 1649,601.7 1650,602.1"/>
<polyline clip-path="url(#clipb)" fill="none" stroke-linejoin="round" stroke="#35a06c" stroke-width="2.8" points="914,358.6 915,358.7 916,358.8 917,358.8 918,358.9 919,359 920,359 921,359.1 922,359.1 923,359.1 924,359.1 925,359.1 926,359.1 927,359.1 928,359 929,359 930,358.9 931,358.9 932,358.8 933,358.7 934,358.6 935,358.5 936,358.3 937,358.2 938,358 939,357.8 940,357.6 941,357.4 942,357.2 943,356.9 944,356.6 945,356.4 946,356.1 947,355.7 948,355.4 949,355 950,354.7 951,354.3 952,353.9 953,353.4 954,353 955,352.5 956,352 957,351.5 958,351 959,350.4 960,349.8 961,349.2 962,348.6 963,348 964,347.3 965,346.6 966,345.9 967,345.2 968,344.5 969,343.7 970,342.9 971,342.1 972,341.3 973,340.5 974,339.6 975,338.7 976,337.8 977,336.9 978,336 979,335 980,334.1 981,333.1 982,332.1 983,331.1 984,330 985,329 986,327.9 987,326.9 988,325.8 989,324.7 990,323.6 991,322.5 992,321.3 993,320.2 994,319.1 995,317.9 996,316.8 997,315.6 998,314.5 999,313.3 1000,312.2 1001,311 1002,309.9 1003,308.7 1004,307.6 1005,306.4 1006,305.3 1007,304.2 1008,303.1 1009,302 1010,300.9 1011,299.8 1012,298.7 1013,297.7 1014,296.7 1015,295.7 1016,294.7 1017,293.7 1018,292.8 1019,291.8 1020,290.9 1021,290.1 1022,289.2 1023,288.4 1024,287.6 1025,286.9 1026,286.2 1027,285.5 1028,284.9 1029,284.2 1030,283.7 1031,283.1 1032,282.7 1033,282.2 1034,281.8 1035,281.4 1036,281.1 1037,280.8 1038,280.6 1039,280.4 1040,280.2 1041,280.1 1042,280.1 1043,280.1 1044,280.1 1045,280.2 1046,280.4 1047,280.5 1048,280.8 1049,281.1 1050,281.4 1051,281.8 1052,282.2 1053,282.7 1054,283.2 1055,283.8 1056,284.4 1057,285.1 1058,285.8 1059,286.6 1060,287.4 1061,288.2 1062,289.1 1063,290.1 1064,291.1 1065,292.1 1066,293.1 1067,294.2 1068,295.4 1069,296.6 1070,297.8 1071,299 1072,300.3 1073,301.6 1074,303 1075,304.4 1076,305.8 1077,307.2 1078,308.7 1079,310.2 1080,311.7 1081,313.2 1082,314.8 1083,316.3 1084,317.9 1085,319.6 1086,321.2 1087,322.8 1088,324.5 1089,326.2 1090,327.8 1091,329.5 1092,331.2 1093,332.9 1094,334.7 1095,336.4 1096,338.1 1097,339.8 1098,341.5 1099,343.3 1100,345 1101,346.7 1102,348.4 1103,350.1 1104,351.8 1105,353.5 1106,355.2 1107,356.9 1108,358.6 1109,360.2 1110,361.9 1111,363.5 1112,365.1 1113,366.8 1114,368.4 1115,369.9 1116,371.5 1117,373.1 1118,374.6 1119,376.1 1120,377.6 1121,379.1 1122,380.6 1123,382 1124,383.4 1125,384.8 1126,386.2 1127,387.6 1128,388.9 1129,390.3 1130,391.6 1131,392.9 1132,394.1 1133,395.4 1134,396.6 1135,397.8 1136,399 1137,400.1 1138,401.3 1139,402.4 1140,403.5 1141,404.6 1142,405.6 1143,406.7 1144,407.7 1145,408.7 1146,409.7 1147,410.6 1148,411.6 1149,412.5 1150,413.4 1151,414.3 1152,415.2 1153,416 1154,416.9 1155,417.7 1156,418.5 1157,419.3 1158,420 1159,420.8 1160,421.5 1161,422.2 1162,422.9 1163,423.6 1164,424.3 1165,425 1166,425.6 1167,426.3 1168,426.9 1169,427.5 1170,428.1 1171,428.7 1172,429.3 1173,429.8 1174,430.4 1175,430.9 1176,431.5 1177,432 1178,432.5 1179,433 1180,433.5 1181,434 1182,434.5 1183,435 1184,435.5 1185,435.9 1186,436.4 1187,436.8 1188,437.3 1189,437.7 1190,438.1 1191,438.6 1192,439 1193,439.4 1194,439.8 1195,440.2 1196,440.6 1197,441 1198,441.4 1199,441.8 1200,442.2 1201,442.6 1202,442.9 1203,443.3 1204,443.7 1205,444.1 1206,444.4 1207,444.8 1208,445.2 1209,445.5 1210,445.9 1211,446.2 1212,446.6 1213,446.9 1214,447.3 1215,447.6 1216,448 1217,448.3 1218,448.7 1219,449 1220,449.3 1221,449.7 1222,450 1223,450.4 1224,450.7 1225,451 1226,451.4 1227,451.7 1228,452 1229,452.4 1230,452.7 1231,453 1232,453.3 1233,453.7 1234,454 1235,454.3 1236,454.7 1237,455 1238,455.3 1239,455.6 1240,456 1241,456.3 1242,456.6 1243,457 1244,457.3 1245,457.6 1246,457.9 1247,458.3 1248,458.6 1249,458.9 1250,459.2 1251,459.6 1252,459.9 1253,460.2 1254,460.5 1255,460.9 1256,461.2 1257,461.5 1258,461.8 1259,462.2 1260,462.5 1261,462.8 1262,463.1 1263,463.5 1264,463.8 1265,464.1 1266,464.4 1267,464.8 1268,465.1 1269,465.4 1270,465.8 1271,466.1 1272,466.4 1273,466.7 1274,467.1 1275,467.4 1276,467.7 1277,468 1278,468.4 1279,468.7 1280,469 1281,469.4 1282,469.7 1283,470 1284,470.3 1285,470.7 1286,471 1287,471.3 1288,471.7 1289,472 1290,472.3 1291,472.6 1292,473 1293,473.3 1294,473.6 1295,474 1296,474.3 1297,474.6 1298,475 1299,475.3 1300,475.6 1301,475.9 1302,476.3 1303,476.6 1304,476.9 1305,477.3 1306,477.6 1307,477.9 1308,478.3 1309,478.6 1310,478.9 1311,479.3 1312,479.6 1313,479.9 1314,480.3 1315,480.6 1316,480.9 1317,481.3 1318,481.6 1319,481.9 1320,482.3 1321,482.6 1322,482.9 1323,483.3 1324,483.6 1325,483.9 1326,484.3 1327,484.6 1328,484.9 1329,485.3 1330,485.6 1331,485.9 1332,486.3 1333,486.6 1334,487 1335,487.3 1336,487.6 1337,488 1338,488.3 1339,488.6 1340,489 1341,489.3 1342,489.7 1343,490 1344,490.3 1345,490.7 1346,491 1347,491.3 1348,491.7 1349,492 1350,492.4 1351,492.7 1352,493 1353,493.4 1354,493.7 1355,494.1 1356,494.4 1357,494.7 1358,495.1 1359,495.4 1360,495.8 1361,496.1 1362,496.4 1363,496.8 1364,497.1 1365,497.5 1366,497.8 1367,498.2 1368,498.5 1369,498.8 1370,499.2 1371,499.5 1372,499.9 1373,500.2 1374,500.6 1375,500.9 1376,501.2 1377,501.6 1378,501.9 1379,502.3 1380,502.6 1381,503 1382,503.3 1383,503.6 1384,504 1385,504.3 1386,504.7 1387,505 1388,505.4 1389,505.7 1390,506.1 1391,506.4 1392,506.8 1393,507.1 1394,507.5 1395,507.8 1396,508.1 1397,508.5 1398,508.8 1399,509.2 1400,509.5 1401,509.9 1402,510.2 1403,510.6 1404,510.9 1405,511.3 1406,511.6 1407,512 1408,512.3 1409,512.7 1410,513 1411,513.4 1412,513.7 1413,514.1 1414,514.4 1415,514.8 1416,515.1 1417,515.5 1418,515.8 1419,516.2 1420,516.5 1421,516.9 1422,517.2 1423,517.6 1424,517.9 1425,518.3 1426,518.6 1427,519 1428,519.3 1429,519.7 1430,520.1 1431,520.4 1432,520.8 1433,521.1 1434,521.5 1435,521.8 1436,522.2 1437,522.5 1438,522.9 1439,523.2 1440,523.6 1441,523.9 1442,524.3 1443,524.7 1444,525 1445,525.4 1446,525.7 1447,526.1 1448,526.4 1449,526.8 1450,527.1 1451,527.5 1452,527.9 1453,528.2 1454,528.6 1455,528.9 1456,529.3 1457,529.6 1458,530 1459,530.4 1460,530.7 1461,531.1 1462,531.4 1463,531.8 1464,532.2 1465,532.5 1466,532.9 1467,533.2 1468,533.6 1469,534 1470,534.3 1471,534.7 1472,535 1473,535.4 1474,535.8 1475,536.1 1476,536.5 1477,536.8 1478,537.2 1479,537.6 1480,537.9 1481,538.3 1482,538.7 1483,539 1484,539.4 1485,539.7 1486,540.1 1487,540.5 1488,540.8 1489,541.2 1490,541.6 1491,541.9 1492,542.3 1493,542.6 1494,543 1495,543.4 1496,543.7 1497,544.1 1498,544.5 1499,544.8 1500,545.2 1501,545.6 1502,545.9 1503,546.3 1504,546.7 1505,547 1506,547.4 1507,547.8 1508,548.1 1509,548.5 1510,548.9 1511,549.2 1512,549.6 1513,550 1514,550.3 1515,550.7 1516,551.1 1517,551.4 1518,551.8 1519,552.2 1520,552.5 1521,552.9 1522,553.3 1523,553.7 1524,554 1525,554.4 1526,554.8 1527,555.1 1528,555.5 1529,555.9 1530,556.2 1531,556.6 1532,557 1533,557.4 1534,557.7 1535,558.1 1536,558.5 1537,558.8 1538,559.2 1539,559.6 1540,560 1541,560.3 1542,560.7 1543,561.1 1544,561.5 1545,561.8 1546,562.2 1547,562.6 1548,563 1549,563.3 1550,563.7 1551,564.1 1552,564.4 1553,564.8 1554,565.2 1555,565.6 1556,565.9 1557,566.3 1558,566.7 1559,567.1 1560,567.5 1561,567.8 1562,568.2 1563,568.6 1564,569 1565,569.3 1566,569.7 1567,570.1 1568,570.5 1569,570.8 1570,571.2 1571,571.6 1572,572 1573,572.4 1574,572.7 1575,573.1 1576,573.5 1577,573.9 1578,574.3 1579,574.6 1580,575 1581,575.4 1582,575.8 1583,576.2 1584,576.5 1585,576.9 1586,577.3 1587,577.7 1588,578.1 1589,578.4 1590,578.8 1591,579.2 1592,579.6 1593,580 1594,580.3 1595,580.7 1596,581.1 1597,581.5 1598,581.9 1599,582.3 1600,582.6 1601,583 1602,583.4 1603,583.8 1604,584.2 1605,584.6 1606,584.9 1607,585.3 1608,585.7 1609,586.1 1610,586.5 1611,586.9 1612,587.3 1613,587.6 1614,588 1615,588.4 1616,588.8 1617,589.2 1618,589.6 1619,590 1620,590.3 1621,590.7 1622,591.1 1623,591.5 1624,591.9 1625,592.3 1626,592.7 1627,593.1 1628,593.4 1629,593.8 1630,594.2 1631,594.6 1632,595 1633,595.4 1634,595.8 1635,596.2 1636,596.6 1637,597 1638,597.3 1639,597.7 1640,598.1 1641,598.5 1642,598.9 1643,599.3 1644,599.7 1645,600.1 1646,600.5 1647,600.9 1648,601.3 1649,601.6 1650,602"/>
<polyline clip-path="url(#clipb)" fill="none" stroke-linejoin="round" stroke="#ff0000" stroke-width="6.8" points="914,358.6 915,358.7 916,358.8 917,358.8 918,358.9 919,359 920,359 921,359.1 922,359.1 923,359.1 924,359.1 925,359.1 926,359.1 927,359.1 928,359 929,359 930,358.9 931,358.9 932,358.8 933,358.7 934,358.6 935,358.5 936,358.3 937,358.2 938,358 939,357.8 940,357.6 941,357.4 942,357.2 943,356.9 944,356.6 945,356.4 946,356.1 947,355.7 948,355.4 949,355 950,354.7 951,354.3 952,353.9 953,353.4 954,353 955,352.5 956,352 957,351.5 958,351 959,350.4 960,349.8 961,349.2 962,348.6 963,348 964,347.3 965,346.6 966,345.9 967,345.2 968,344.5 969,343.7 970,342.9 971,342.1 972,341.3 973,340.5 974,339.6 975,338.7 976,337.8 977,336.9 978,336 979,335 980,334.1 981,333.1 982,332.1 983,331.1 984,330 985,329 986,327.9 987,326.9 988,325.8 989,324.7 990,323.6 991,322.5 992,321.3 993,320.2 994,319.1 995,317.9 996,316.8 997,315.6 998,314.5 999,313.3 1000,312.2 1001,311 1002,309.9 1003,308.7 1004,307.6 1005,306.4 1006,305.3 1007,304.2 1008,303.1 1009,302 1010,300.9 1011,299.8 1012,298.7 1013,297.7 1014,296.7 1015,295.7 1016,294.7 1017,293.7 1018,292.8 1019,291.8 1020,290.9 1021,290.1 1022,289.2 1023,288.4 1024,287.6 1025,286.9 1026,286.2 1027,285.5 1028,284.8 1029,284.2 1030,283.7 1031,283.1 1032,282.6 1033,282.2 1034,281.7 1035,281.4 1036,281 1037,280.7 1038,280.5 1039,280.3 1040,280.1 1041,280 1042,280 1043,279.9 1044,280 1045,280 1046,280.2 1047,280.3 1048,280.5 1049,280.8 1050,281.1 1051,281.4 1052,281.8 1053,282.3 1054,282.7 1055,283.2 1056,283.8 1057,284.4 1058,285 1059,285.7 1060,286.4 1061,287.2 1062,287.9 1063,288.8 1064,289.6 1065,290.5 1066,291.4 1067,292.3 1068,293.2 1069,294.2 1070,295.2 1071,296.1 1072,297.1 1073,298.2 1074,299.2 1075,300.2 1076,301.2 1077,302.2 1078,303.2 1079,304.2 1080,305.2 1081,306.2 1082,307.2 1083,308.1 1084,309 1085,309.9 1086,310.7 1087,311.5 1088,312.3 1089,313 1090,313.7 1091,314.3 1092,314.9 1093,315.4 1094,315.9 1095,316.3 1096,316.6 1097,316.8 1098,317 1099,317.1 1100,317.2 1101,317.1 1102,317 1103,316.8 1104,316.5 1105,316.1 1106,315.6 1107,315 1108,314.4 1109,313.7 1110,312.8 1111,311.9 1112,311 1113,309.9 1114,308.7 1115,307.5 1116,306.2 1117,304.8 1118,303.3 1119,301.8 1120,300.2 1121,298.6 1122,296.9 1123,295.2 1124,293.4 1125,291.6 1126,289.7 1127,287.9 1128,286 1129,284.1 1130,282.2 1131,280.4 1132,278.5 1133,276.7 1134,274.9 1135,273.1 1136,271.4 1137,269.7 1138,268.1 1139,266.6 1140,265.1 1141,263.8 1142,262.5 1143,261.3 1144,260.3 1145,259.3 1146,258.5 1147,257.8 1148,257.2 1149,256.8 1150,256.5 1151,256.4 1152,256.4 1153,256.6 1154,256.9 1155,257.4 1156,258.1 1157,258.9 1158,259.8 1159,261 1160,262.3 1161,263.7 1162,265.3 1163,267.1 1164,269 1165,271 1166,273.2 1167,275.5 1168,278 1169,280.6 1170,283.3 1171,286.1 1172,289.1 1173,292.1 1174,295.3 1175,298.5 1176,301.8 1177,305.2 1178,308.6 1179,312.1 1180,315.6 1181,319.2 1182,322.9 1183,326.5 1184,330.2 1185,333.9 1186,337.5 1187,341.2 1188,344.9 1189,348.5 1190,352.2 1191,355.8 1192,359.3 1193,362.9 1194,366.4 1195,369.8 1196,373.2 1197,376.5 1198,379.7 1199,382.9 1200,386 1201,389.1 1202,392.1 1203,395 1204,397.8 1205,400.5 1206,403.2 1207,405.8 1208,408.3 1209,410.7 1210,413 1211,415.3 1212,417.4 1213,419.5 1214,421.6 1215,423.5 1216,425.4 1217,427.1 1218,428.9 1219,430.5 1220,432.1 1221,433.6 1222,435 1223,436.4 1224,437.7 1225,439 1226,440.2 1227,441.3 1228,442.4 1229,443.4 1230,444.4 1231,445.4 1232,446.3 1233,447.1 1234,448 1235,448.7 1236,449.5 1237,450.2 1238,450.9 1239,451.5 1240,452.1 1241,452.7 1242,453.3 1243,453.8 1244,454.3 1245,454.8 1246,455.3 1247,455.7 1248,456.1 1249,456.5 1250,456.9 1251,457.3 1252,457.6 1253,458 1254,458.3 1255,458.6 1256,458.9 1257,459.1 1258,459.4 1259,459.6 1260,459.9 1261,460.1 1262,460.3 1263,460.4 1264,460.6 1265,460.7 1266,460.9 1267,461 1268,461.1 1269,461.1 1270,461.2 1271,461.2 1272,461.2 1273,461.2 1274,461.2 1275,461.2 1276,461.1 1277,461 1278,460.9 1279,460.7 1280,460.6 1281,460.4 1282,460.2 1283,459.9 1284,459.6 1285,459.3 1286,459 1287,458.6 1288,458.2 1289,457.8 1290,457.3 1291,456.8 1292,456.3 1293,455.7 1294,455.1 1295,454.4 1296,453.7 1297,453 1298,452.2 1299,451.4 1300,450.6 1301,449.6 1302,448.7 1303,447.7 1304,446.7 1305,445.6 1306,444.5 1307,443.3 1308,442.1 1309,440.8 1310,439.5 1311,438.2 1312,436.8 1313,435.3 1314,433.8 1315,432.3 1316,430.7 1317,429.1 1318,427.4 1319,425.7 1320,424 1321,422.2 1322,420.4 1323,418.5 1324,416.6 1325,414.7 1326,412.7 1327,410.7 1328,408.7 1329,406.6 1330,404.6 1331,402.5 1332,400.4 1333,398.2 1334,396.1 1335,393.9 1336,391.7 1337,389.6 1338,387.4 1339,385.2 1340,383 1341,380.9 1342,378.7 1343,376.6 1344,374.4 1345,372.3 1346,370.2 1347,368.2 1348,366.1 1349,364.1 1350,362.2 1351,360.2 1352,358.3 1353,356.5 1354,354.7 1355,353 1356,351.3 1357,349.7 1358,348.1 1359,346.7 1360,345.2 1361,343.9 1362,342.6 1363,341.4 1364,340.3 1365,339.3 1366,338.3 1367,337.4 1368,336.6 1369,335.9 1370,335.3 1371,334.8 1372,334.4 1373,334.1 1374,333.8 1375,333.7 1376,333.6 1377,333.6 1378,333.7 1379,334 1380,334.3 1381,334.6 1382,335.1 1383,335.7 1384,336.3 1385,337 1386,337.8 1387,338.7 1388,339.6 1389,340.6 1390,341.7 1391,342.8 1392,344 1393,345.2 1394,346.4 1395,347.7 1396,349.1 1397,350.4 1398,351.8 1399,353.2 1400,354.6 1401,356 1402,357.4 1403,358.8 1404,360.2 1405,361.5 1406,362.8 1407,364.1 1408,365.3 1409,366.5 1410,367.6 1411,368.6 1412,369.5 1413,370.4 1414,371.2 1415,371.8 1416,372.4 1417,372.9 1418,373.2 1419,373.4 1420,373.4 1421,373.4 1422,373.1 1423,372.7 1424,372.2 1425,371.5 1426,370.6 1427,369.6 1428,368.4 1429,367 1430,365.4 1431,363.7 1432,361.7 1433,359.6 1434,357.3 1435,354.8 1436,352.1 1437,349.3 1438,346.2 1439,343 1440,339.7 1441,336.1 1442,332.4 1443,328.5 1444,324.5 1445,320.4 1446,316.1 1447,311.7 1448,307.1 1449,302.5 1450,297.8 1451,293 1452,288.1 1453,283.2 1454,278.2 1455,273.2 1456,268.2 1457,263.2 1458,258.2 1459,253.2 1460,248.3 1461,243.4 1462,238.6 1463,233.9 1464,229.3 1465,224.8 1466,220.5 1467,216.3 1468,212.2 1469,208.4 1470,204.8 1471,201.3 1472,198.1 1473,195.1 1474,192.4 1475,189.9 1476,187.7 1477,185.8 1478,184.2 1479,182.8 1480,181.8 1481,181 1482,180.6 1483,180.5 1484,180.7 1485,181.3 1486,182.2 1487,183.4 1488,184.9 1489,186.7 1490,188.9 1491,191.4 1492,194.2 1493,197.3 1494,200.7 1495,204.4 1496,208.3 1497,212.6 1498,217.1 1499,221.9 1500,226.9 1501,232.1 1502,237.6 1503,243.3 1504,249.1 1505,255.2 1506,261.4 1507,267.7 1508,274.2 1509,280.9 1510,287.6 1511,294.4 1512,301.3 1513,308.3 1514,315.3 1515,322.4 1516,329.4 1517,336.5 1518,343.6 1519,350.7 1520,357.7 1521,364.7 1522,371.7 1523,378.6 1524,385.4 1525,392.2 1526,398.8 1527,405.4 1528,411.8 1529,418.2 1530,424.4 1531,430.5 1532,436.4 1533,442.3 1534,447.9 1535,453.5 1536,458.9 1537,464.1 1538,469.2 1539,474.2 1540,479 1541,483.6 1542,488.1 1543,492.4 1544,496.6 1545,500.6 1546,504.5 1547,508.2 1548,511.8 1549,515.2 1550,518.5 1551,521.7 1552,524.7 1553,527.6 1554,530.4 1555,533.1 1556,535.6 1557,538 1558,540.3 1559,542.5 1560,544.6 1561,546.6 1562,548.5 1563,550.3 1564,552 1565,553.7 1566,555.2 1567,556.7 1568,558.1 1569,559.5 1570,560.7 1571,562 1572,563.1 1573,564.2 1574,565.3 1575,566.3 1576,567.2 1577,568.1 1578,569 1579,569.8 1580,570.6 1581,571.4 1582,572.1 1583,572.9 1584,573.5 1585,574.2 1586,574.8 1587,575.4 1588,576 1589,576.6 1590,577.2 1591,577.7 1592,578.2 1593,578.8 1594,579.3 1595,579.8 1596,580.2 1597,580.7 1598,581.2 1599,581.6 1600,582.1 1601,582.5 1602,583 1603,583.4 1604,583.8 1605,584.2 1606,584.7 1607,585.1 1608,585.5 1609,585.9 1610,586.3 1611,586.7 1612,587.1 1613,587.5 1614,587.9 1615,588.3 1616,588.7 1617,589.1 1618,589.5 1619,589.9 1620,590.3 1621,590.7 1622,591.1 1623,591.5 1624,591.9 1625,592.3 1626,592.7 1627,593 1628,593.4 1629,593.8 1630,594.2 1631,594.6 1632,595 1633,595.4 1634,595.8 1635,596.2 1636,596.6 1637,596.9 1638,597.3 1639,597.7 1640,598.1 1641,598.5 1642,598.9 1643,599.3 1644,599.7 1645,600.1 1646,600.5 1647,600.9 1648,601.3 1649,601.6 1650,602"/>
<polyline clip-path="url(#clipc)" fill="none" stroke-linejoin="round" stroke="#111" stroke-width="2.6" points="1732,574.7 1734,574.4 1736,574.2 1738,569.5 1740,576.2 1742,570.5 1744,577.6 1746,576.8 1748,577.1 1750,576.9 1752,575.5 1754,573.6 1756,574.3 1758,579.1 1760,575.2 1762,577.1 1764,577 1766,578.4 1768,579.6 1770,581.4 1772,580.4 1774,580.3 1776,579.6 1778,581.2 1780,577.9 1782,581.3 1784,584.3 1786,579.8 1788,581.6 1790,588.4 1792,579.8 1794,578.4 1796,581.4 1798,586.7 1800,587.5 1802,580.4 1804,584.8 1806,584 1808,583.1 1810,580.4 1812,587.8 1814,583.9 1816,586.9 1818,586.6 1820,590.8 1822,589.1 1824,583.6 1826,585.6 1828,588.5 1830,582.9 1832,584.9 1834,586.1 1836,581.6 1838,582.4 1840,581.4 1842,586.3 1844,584.8 1846,588.9 1848,587.6 1850,589.2 1852,588.2 1854,590.5 1856,588.8 1858,587 1860,592.1 1862,591.8 1864,595 1866,589.8 1868,589.2 1870,587.8 1872,582.8 1874,589.2 1876,593.7 1878,590.6 1880,586.5 1882,593.7 1884,590.8 1886,591.2 1888,591 1890,591.6 1892,593 1894,587.8 1896,591.3 1898,590.6 1900,594.4 1902,589.4 1904,595.4 1906,592.9 1908,595.1 1910,589.6 1912,592.8 1914,591.5 1916,586.7 1918,588.8 1920,587.7 1922,585.9 1924,585.8 1926,583.9 1928,585.8 1930,587.3 1932,584.3 1934,582.1 1936,587.6 1938,583.9 1940,584.6 1942,583.8 1944,583 1946,585.5 1948,582.7 1950,583.7 1952,579.8 1954,578.7 1956,580.7 1958,584.8 1960,579.3 1962,581.5 1964,576 1966,573.8 1968,569.1 1970,568 1972,569.7 1974,565.8 1976,558.9 1978,556.4 1980,557.7 1982,550.4 1984,550.5 1986,542.8 1988,542.5 1990,540.3 1992,534.3 1994,528.3 1996,523.2 1998,517.5 2000,512.1 2002,508.8 2004,502.1 2006,493.2 2008,481.8 2010,475.8 2012,469.8 2014,461.3 2016,449.8 2018,445.9 2020,441.3 2022,423 2024,416.1 2026,409.3 2028,393.9 2030,383.1 2032,373.5 2034,363.4 2036,350 2038,342 2040,323.9 2042,318 2044,305.3 2046,291.8 2048,280.7 2050,267.8 2052,259 2054,243.7 2056,234 2058,220.7 2060,211.4 2062,203.6 2064,191 2066,183.2 2068,173 2070,166.4 2072,159.8 2074,154.2 2076,140.2 2078,135.7 2080,127.7 2082,119.3 2084,115.1 2086,109.7 2088,114 2090,117.1 2092,118 2094,116.9 2096,118.1 2098,120.2 2100,120.7 2102,126.6 2104,132.5 2106,135 2108,144.1 2110,140.9 2112,153.1 2114,164.4 2116,169.4 2118,178 2120,182.6 2122,187.6 2124,197.4 2126,210.7 2128,211.7 2130,222.6 2132,229.6 2134,241.1 2136,249.8 2138,260.2 2140,264.7 2142,278.1 2144,283 2146,287.8 2148,294.1 2150,300.4 2152,311.7 2154,323.5 2156,326 2158,331.2 2160,340.3 2162,345.7 2164,351 2166,354.7 2168,364.8 2170,374.1 2172,379.3 2174,384.2 2176,387.7 2178,393.3 2180,399.3 2182,401.3 2184,406.2 2186,408.5 2188,415.5 2190,413.9 2192,420.3 2194,423.4 2196,426.1 2198,429.1 2200,430.2 2202,434.2 2204,439 2206,443.8 2208,446.7 2210,452.9 2212,456.8 2214,460.3 2216,467.3 2218,468.5 2220,474.3 2222,480.2 2224,483.7 2226,482.7 2228,487.8 2230,488.8 2232,496.5 2234,497.7 2236,499.3 2238,499.2 2240,501.8 2242,506.4 2244,507.9 2246,510.4 2248,515.6 2250,514.3 2252,516 2254,521.7 2256,524.8 2258,530.6 2260,532 2262,536.6 2264,535.4 2266,546.4 2268,546.8 2270,546.7 2272,552.3 2274,557.4 2276,559.7 2278,560.8 2280,565.7 2282,569.6 2284,567.7 2286,569.8 2288,574.1 2290,579.8 2292,582.8 2294,581.5 2296,586.4 2298,586.8 2300,585.7 2302,585.4 2304,586.7 2306,589.2 2308,593 2310,592.3 2312,588.1 2314,589.4 2316,595.5 2318,596 2320,595.5 2322,601.5 2324,605.5 2326,606.4 2328,606.9 2330,611.5 2332,608.8 2334,609.1 2336,608.6 2338,614.9 2340,614.8 2342,609.2 2344,610.2 2346,609.5 2348,610.6 2350,611.3 2352,610.4 2354,608.8 2356,608 2358,606.8 2360,603 2362,608.5 2364,606.4 2366,608.2 2368,607.7 2370,605.7 2372,607.3 2374,609.9 2376,609.9 2378,608.1 2380,609 2382,612.5 2384,612 2386,612.3 2388,611 2390,612.9 2392,611.1 2394,616.4 2396,609.1 2398,608.2 2400,613.3 2402,609 2404,607.4 2406,610.4 2408,604.4 2410,611.3 2412,610.8 2414,611.6 2416,609.3 2418,614.2 2420,611.9 2422,611.2 2424,612 2426,609.2 2428,610.7 2430,607.3 2432,607.9 2434,610.9 2436,610.3 2438,611.7 2440,608.6 2442,610.2 2444,609.3 2446,612.1 2448,613.9 2450,615.1 2452,614.4 2454,611.7 2456,614.4 2458,612 2460,610.4 2462,615.6 2464,615.6 2466,617.2"/>
<polyline clip-path="url(#clipc)" fill="none" stroke-linejoin="round" stroke="#8a8a1e" stroke-width="2.8" points="1925,589.6 1926,589.5 1927,589.4 1928,589.2 1929,589.1 1930,588.9 1931,588.7 1932,588.6 1933,588.4 1934,588.2 1935,588 1936,587.8 1937,587.6 1938,587.3 1939,587.1 1940,586.8 1941,586.5 1942,586.2 1943,585.9 1944,585.6 1945,585.2 1946,584.9 1947,584.5 1948,584.1 1949,583.7 1950,583.2 1951,582.8 1952,582.3 1953,581.8 1954,581.3 1955,580.7 1956,580.1 1957,579.5 1958,578.9 1959,578.2 1960,577.5 1961,576.8 1962,576 1963,575.2 1964,574.4 1965,573.5 1966,572.6 1967,571.7 1968,570.7 1969,569.7 1970,568.6 1971,567.5 1972,566.4 1973,565.2 1974,563.9 1975,562.6 1976,561.3 1977,559.9 1978,558.4 1979,556.9 1980,555.4 1981,553.8 1982,552.1 1983,550.4 1984,548.6 1985,546.7 1986,544.8 1987,542.8 1988,540.8 1989,538.7 1990,536.5 1991,534.2 1992,531.9 1993,529.5 1994,527.1 1995,524.5 1996,521.9 1997,519.2 1998,516.4 1999,513.6 2000,510.7 2001,507.7 2002,504.6 2003,501.4 2004,498.2 2005,494.9 2006,491.5 2007,488 2008,484.4 2009,480.8 2010,477 2011,473.2 2012,469.3 2013,465.4 2014,461.3 2015,457.2 2016,452.9 2017,448.6 2018,444.3 2019,439.8 2020,435.3 2021,430.7 2022,426 2023,421.3 2024,416.5 2025,411.6 2026,406.6 2027,401.6 2028,396.5 2029,391.4 2030,386.2 2031,381 2032,375.7 2033,370.3 2034,364.9 2035,359.5 2036,354.1 2037,348.5 2038,343 2039,337.5 2040,331.9 2041,326.3 2042,320.7 2043,315 2044,309.4 2045,303.8 2046,298.2 2047,292.5 2048,286.9 2049,281.3 2050,275.8 2051,270.3 2052,264.8 2053,259.3 2054,253.9 2055,248.5 2056,243.2 2057,238 2058,232.8 2059,227.7 2060,222.7 2061,217.8 2062,213 2063,208.2 2064,203.6 2065,199.1 2066,194.7 2067,190.4 2068,186.2 2069,182.2 2070,178.3 2071,174.6 2072,171 2073,167.6 2074,164.3 2075,161.2 2076,158.3 2077,155.5 2078,152.9 2079,150.6 2080,148.4 2081,146.4 2082,144.6 2083,143.1 2084,141.7 2085,140.6 2086,139.7 2087,139 2088,138.6 2089,138.5 2090,138.7 2091,139.2 2092,139.9 2093,140.9 2094,142.1 2095,143.6 2096,145.2 2097,147.1 2098,149.2 2099,151.5 2100,154 2101,156.7 2102,159.6 2103,162.7 2104,165.9 2105,169.3 2106,172.9 2107,176.6 2108,180.5 2109,184.5 2110,188.7 2111,193 2112,197.5 2113,202 2114,206.7 2115,211.5 2116,216.4 2117,221.4 2118,226.5 2119,231.7 2120,237 2121,242.3 2122,247.7 2123,253.2 2124,258.8 2125,264.4 2126,270 2127,275.7 2128,281.4 2129,287.2 2130,292.9 2131,298.7 2132,304.5 2133,310.4 2134,316.2 2135,322 2136,327.8 2137,333.7 2138,339.5 2139,345.2 2140,351 2141,356.7 2142,362.4 2143,368.1 2144,373.7 2145,379.3 2146,384.9 2147,390.4 2148,395.8 2149,401.2 2150,406.5 2151,411.8 2152,417 2153,422.2 2154,427.2 2155,432.2 2156,437.2 2157,442.1 2158,446.8 2159,451.6 2160,456.2 2161,460.8 2162,465.3 2163,469.7 2164,474 2165,478.2 2166,482.4 2167,486.4 2168,490.4 2169,494.3 2170,498.2 2171,501.9 2172,505.6 2173,509.1 2174,512.6 2175,516 2176,519.3 2177,522.6 2178,525.7 2179,528.8 2180,531.8 2181,534.7 2182,537.6 2183,540.3 2184,543 2185,545.6 2186,548.2 2187,550.6 2188,553 2189,555.3 2190,557.6 2191,559.7 2192,561.8 2193,563.9 2194,565.9 2195,567.8 2196,569.6 2197,571.4 2198,573.1 2199,574.8 2200,576.4 2201,578 2202,579.5 2203,580.9 2204,582.3 2205,583.6 2206,584.9 2207,586.2 2208,587.4 2209,588.5 2210,589.7 2211,590.7 2212,591.7 2213,592.7 2214,593.7 2215,594.6 2216,595.5 2217,596.3 2218,597.1 2219,597.9 2220,598.6 2221,599.3 2222,600 2223,600.7 2224,601.3 2225,601.9 2226,602.4 2227,603 2228,603.5 2229,604 2230,604.5 2231,604.9 2232,605.4 2233,605.8 2234,606.2 2235,606.6 2236,606.9 2237,607.3 2238,607.6 2239,607.9 2240,608.2 2241,608.5 2242,608.8 2243,609 2244,609.3 2245,609.5 2246,609.7 2247,609.9 2248,610.1 2249,610.3 2250,610.5 2251,610.7 2252,610.9 2253,611 2254,611.2 2255,611.3 2256,611.4 2257,611.6 2258,611.7 2259,611.8 2260,611.9 2261,612 2262,612.1 2263,612.2 2264,612.3 2265,612.4 2266,612.5 2267,612.5 2268,612.6 2269,612.7 2270,612.8 2271,612.8 2272,612.9 2273,612.9 2274,613 2275,613 2276,613.1 2277,613.1 2278,613.2 2279,613.2 2280,613.3 2281,613.3 2282,613.3 2283,613.4 2284,613.4 2285,613.4 2286,613.4 2287,613.5 2288,613.5 2289,613.5 2290,613.5 2291,613.6 2292,613.6 2293,613.6 2294,613.6 2295,613.7 2296,613.7 2297,613.7 2298,613.7 2299,613.7 2300,613.7 2301,613.7 2302,613.8 2303,613.8 2304,613.8 2305,613.8 2306,613.8 2307,613.8 2308,613.8 2309,613.8 2310,613.8 2311,613.8 2312,613.9 2313,613.9 2314,613.9 2315,613.9 2316,613.9 2317,613.9 2318,613.9 2319,613.9 2320,613.9 2321,613.9 2322,613.9 2323,613.9 2324,613.9 2325,613.9 2326,613.9 2327,613.9 2328,613.9 2329,613.9 2330,613.9 2331,613.9 2332,613.9 2333,614 2334,614 2335,614 2336,614 2337,614 2338,614 2339,614 2340,614 2341,614 2342,614 2343,614 2344,614 2345,614 2346,614 2347,614 2348,614 2349,614 2350,614 2351,614 2352,614 2353,614 2354,614 2355,614 2356,614 2357,614 2358,614 2359,614 2360,614 2361,614 2362,614 2363,614 2364,614 2365,614 2366,614 2367,614 2368,614 2369,614 2370,614 2371,614 2372,614 2373,614 2374,614 2375,614 2376,614 2377,614 2378,614 2379,614 2380,614 2381,614 2382,614 2383,614 2384,614 2385,614 2386,614 2387,614 2388,614 2389,614 2390,614 2391,614 2392,614 2393,614 2394,614 2395,614 2396,614 2397,614 2398,614 2399,614 2400,614 2401,614 2402,614 2403,614 2404,614 2405,614 2406,614 2407,614 2408,614 2409,614 2410,614 2411,614 2412,614 2413,614 2414,614 2415,614 2416,614 2417,614 2418,614 2419,614 2420,614 2421,614 2422,614 2423,614 2424,614 2425,614 2426,614 2427,614 2428,614 2429,614 2430,614 2431,614 2432,614 2433,614 2434,614 2435,614 2436,614 2437,614 2438,614 2439,614 2440,614 2441,614 2442,614 2443,614 2444,614 2445,614 2446,614 2447,614 2448,614 2449,614 2450,614 2451,614 2452,614 2453,614 2454,614 2455,614 2456,614 2457,614 2458,614 2459,614 2460,614 2461,614 2462,614 2463,614 2464,614 2465,614 2466,614"/>
<polyline clip-path="url(#clipc)" fill="none" stroke-linejoin="round" stroke="#2f6fd6" stroke-width="2.8" points="1925,591.5 1926,591.5 1927,591.5 1928,591.5 1929,591.5 1930,591.5 1931,591.5 1932,591.5 1933,591.5 1934,591.5 1935,591.5 1936,591.5 1937,591.5 1938,591.5 1939,591.5 1940,591.5 1941,591.5 1942,591.5 1943,591.5 1944,591.5 1945,591.5 1946,591.5 1947,591.5 1948,591.5 1949,591.5 1950,591.5 1951,591.5 1952,591.5 1953,591.5 1954,591.5 1955,591.5 1956,591.5 1957,591.6 1958,591.6 1959,591.6 1960,591.6 1961,591.6 1962,591.6 1963,591.6 1964,591.6 1965,591.6 1966,591.6 1967,591.6 1968,591.6 1969,591.6 1970,591.6 1971,591.6 1972,591.6 1973,591.6 1974,591.6 1975,591.6 1976,591.6 1977,591.6 1978,591.6 1979,591.6 1980,591.7 1981,591.7 1982,591.7 1983,591.7 1984,591.7 1985,591.7 1986,591.7 1987,591.7 1988,591.7 1989,591.7 1990,591.7 1991,591.7 1992,591.7 1993,591.7 1994,591.8 1995,591.8 1996,591.8 1997,591.8 1998,591.8 1999,591.8 2000,591.8 2001,591.8 2002,591.8 2003,591.8 2004,591.8 2005,591.8 2006,591.8 2007,591.9 2008,591.9 2009,591.9 2010,591.9 2011,591.9 2012,591.9 2013,591.9 2014,591.9 2015,591.9 2016,591.9 2017,591.9 2018,591.9 2019,591.9 2020,591.9 2021,591.9 2022,591.9 2023,591.9 2024,591.9 2025,591.9 2026,591.8 2027,591.8 2028,591.8 2029,591.8 2030,591.8 2031,591.7 2032,591.7 2033,591.7 2034,591.7 2035,591.6 2036,591.6 2037,591.5 2038,591.5 2039,591.5 2040,591.4 2041,591.3 2042,591.3 2043,591.2 2044,591.1 2045,591.1 2046,591 2047,590.9 2048,590.8 2049,590.7 2050,590.6 2051,590.5 2052,590.4 2053,590.2 2054,590.1 2055,590 2056,589.8 2057,589.6 2058,589.5 2059,589.3 2060,589.1 2061,588.9 2062,588.7 2063,588.5 2064,588.3 2065,588 2066,587.8 2067,587.5 2068,587.2 2069,586.9 2070,586.6 2071,586.3 2072,586 2073,585.7 2074,585.3 2075,584.9 2076,584.5 2077,584.1 2078,583.7 2079,583.3 2080,582.9 2081,582.4 2082,581.9 2083,581.4 2084,580.9 2085,580.4 2086,579.8 2087,579.2 2088,578.6 2089,578 2090,577.4 2091,576.7 2092,576.1 2093,575.4 2094,574.7 2095,574 2096,573.2 2097,572.4 2098,571.6 2099,570.8 2100,570 2101,569.2 2102,568.3 2103,567.4 2104,566.5 2105,565.5 2106,564.6 2107,563.6 2108,562.6 2109,561.6 2110,560.5 2111,559.5 2112,558.4 2113,557.3 2114,556.2 2115,555 2116,553.9 2117,552.7 2118,551.5 2119,550.3 2120,549.1 2121,547.8 2122,546.6 2123,545.3 2124,544 2125,542.7 2126,541.4 2127,540 2128,538.7 2129,537.3 2130,536 2131,534.6 2132,533.2 2133,531.8 2134,530.4 2135,529 2136,527.6 2137,526.1 2138,524.7 2139,523.3 2140,521.8 2141,520.4 2142,519 2143,517.5 2144,516.1 2145,514.7 2146,513.2 2147,511.8 2148,510.4 2149,509 2150,507.6 2151,506.2 2152,504.8 2153,503.5 2154,502.1 2155,500.8 2156,499.4 2157,498.1 2158,496.8 2159,495.6 2160,494.3 2161,493.1 2162,491.9 2163,490.7 2164,489.5 2165,488.3 2166,487.2 2167,486.1 2168,485.1 2169,484 2170,483 2171,482.1 2172,481.1 2173,480.2 2174,479.3 2175,478.5 2176,477.7 2177,476.9 2178,476.2 2179,475.5 2180,474.8 2181,474.2 2182,473.6 2183,473.1 2184,472.5 2185,472.1 2186,471.7 2187,471.3 2188,470.9 2189,470.6 2190,470.4 2191,470.1 2192,470 2193,469.8 2194,469.7 2195,469.7 2196,469.7 2197,469.7 2198,469.7 2199,469.9 2200,470 2201,470.2 2202,470.4 2203,470.7 2204,471 2205,471.3 2206,471.7 2207,472.1 2208,472.6 2209,473.1 2210,473.7 2211,474.3 2212,474.9 2213,475.6 2214,476.3 2215,477.1 2216,477.9 2217,478.7 2218,479.6 2219,480.5 2220,481.4 2221,482.4 2222,483.4 2223,484.4 2224,485.5 2225,486.6 2226,487.7 2227,488.9 2228,490.1 2229,491.3 2230,492.5 2231,493.8 2232,495.1 2233,496.4 2234,497.8 2235,499.1 2236,500.5 2237,501.9 2238,503.3 2239,504.8 2240,506.2 2241,507.7 2242,509.2 2243,510.7 2244,512.2 2245,513.7 2246,515.2 2247,516.8 2248,518.3 2249,519.8 2250,521.4 2251,523 2252,524.5 2253,526.1 2254,527.6 2255,529.2 2256,530.8 2257,532.3 2258,533.9 2259,535.4 2260,537 2261,538.5 2262,540.1 2263,541.6 2264,543.1 2265,544.6 2266,546.1 2267,547.6 2268,549.1 2269,550.6 2270,552 2271,553.5 2272,554.9 2273,556.3 2274,557.7 2275,559.1 2276,560.5 2277,561.8 2278,563.1 2279,564.5 2280,565.7 2281,567 2282,568.3 2283,569.5 2284,570.7 2285,572 2286,573.1 2287,574.3 2288,575.4 2289,576.6 2290,577.7 2291,578.7 2292,579.8 2293,580.8 2294,581.9 2295,582.9 2296,583.8 2297,584.8 2298,585.7 2299,586.6 2300,587.5 2301,588.4 2302,589.3 2303,590.1 2304,590.9 2305,591.7 2306,592.5 2307,593.2 2308,593.9 2309,594.7 2310,595.4 2311,596 2312,596.7 2313,597.3 2314,597.9 2315,598.5 2316,599.1 2317,599.7 2318,600.2 2319,600.8 2320,601.3 2321,601.8 2322,602.3 2323,602.8 2324,603.2 2325,603.6 2326,604.1 2327,604.5 2328,604.9 2329,605.3 2330,605.6 2331,606 2332,606.3 2333,606.7 2334,607 2335,607.3 2336,607.6 2337,607.9 2338,608.2 2339,608.4 2340,608.7 2341,608.9 2342,609.2 2343,609.4 2344,609.6 2345,609.8 2346,610 2347,610.2 2348,610.4 2349,610.6 2350,610.7 2351,610.9 2352,611 2353,611.2 2354,611.3 2355,611.5 2356,611.6 2357,611.7 2358,611.8 2359,611.9 2360,612.1 2361,612.2 2362,612.3 2363,612.3 2364,612.4 2365,612.5 2366,612.6 2367,612.7 2368,612.7 2369,612.8 2370,612.9 2371,612.9 2372,613 2373,613.1 2374,613.1 2375,613.2 2376,613.2 2377,613.3 2378,613.3 2379,613.3 2380,613.4 2381,613.4 2382,613.4 2383,613.5 2384,613.5 2385,613.5 2386,613.6 2387,613.6 2388,613.6 2389,613.6 2390,613.7 2391,613.7 2392,613.7 2393,613.7 2394,613.7 2395,613.8 2396,613.8 2397,613.8 2398,613.8 2399,613.8 2400,613.8 2401,613.8 2402,613.8 2403,613.9 2404,613.9 2405,613.9 2406,613.9 2407,613.9 2408,613.9 2409,613.9 2410,613.9 2411,613.9 2412,613.9 2413,613.9 2414,613.9 2415,613.9 2416,613.9 2417,613.9 2418,614 2419,614 2420,614 2421,614 2422,614 2423,614 2424,614 2425,614 2426,614 2427,614 2428,614 2429,614 2430,614 2431,614 2432,614 2433,614 2434,614 2435,614 2436,614 2437,614 2438,614 2439,614 2440,614 2441,614 2442,614 2443,614 2444,614 2445,614 2446,614 2447,614 2448,614 2449,614 2450,614 2451,614 2452,614 2453,614 2454,614 2455,614 2456,614 2457,614 2458,614 2459,614 2460,614 2461,614 2462,614 2463,614 2464,614 2465,614 2466,614"/>
<polyline clip-path="url(#clipc)" fill="none" stroke-linejoin="round" stroke="#8a1a9a" stroke-width="2.8" points="1925,591.5 1926,591.5 1927,591.5 1928,591.5 1929,591.5 1930,591.5 1931,591.5 1932,591.5 1933,591.5 1934,591.5 1935,591.5 1936,591.5 1937,591.5 1938,591.5 1939,591.5 1940,591.5 1941,591.5 1942,591.5 1943,591.5 1944,591.5 1945,591.5 1946,591.5 1947,591.5 1948,591.5 1949,591.5 1950,591.5 1951,591.5 1952,591.5 1953,591.5 1954,591.6 1955,591.6 1956,591.6 1957,591.6 1958,591.6 1959,591.6 1960,591.6 1961,591.6 1962,591.6 1963,591.6 1964,591.6 1965,591.6 1966,591.6 1967,591.6 1968,591.6 1969,591.6 1970,591.6 1971,591.6 1972,591.6 1973,591.6 1974,591.7 1975,591.7 1976,591.7 1977,591.7 1978,591.7 1979,591.7 1980,591.7 1981,591.7 1982,591.7 1983,591.7 1984,591.8 1985,591.8 1986,591.8 1987,591.8 1988,591.8 1989,591.8 1990,591.8 1991,591.9 1992,591.9 1993,591.9 1994,591.9 1995,591.9 1996,592 1997,592 1998,592 1999,592 2000,592 2001,592.1 2002,592.1 2003,592.1 2004,592.2 2005,592.2 2006,592.2 2007,592.2 2008,592.3 2009,592.3 2010,592.3 2011,592.4 2012,592.4 2013,592.4 2014,592.5 2015,592.5 2016,592.6 2017,592.6 2018,592.7 2019,592.7 2020,592.7 2021,592.8 2022,592.8 2023,592.9 2024,592.9 2025,593 2026,593.1 2027,593.1 2028,593.2 2029,593.2 2030,593.3 2031,593.3 2032,593.4 2033,593.5 2034,593.5 2035,593.6 2036,593.7 2037,593.8 2038,593.8 2039,593.9 2040,594 2041,594.1 2042,594.2 2043,594.2 2044,594.3 2045,594.4 2046,594.5 2047,594.6 2048,594.7 2049,594.8 2050,594.9 2051,595 2052,595.1 2053,595.2 2054,595.3 2055,595.4 2056,595.5 2057,595.6 2058,595.7 2059,595.8 2060,595.9 2061,596 2062,596.2 2063,596.3 2064,596.4 2065,596.5 2066,596.6 2067,596.8 2068,596.9 2069,597 2070,597.1 2071,597.3 2072,597.4 2073,597.5 2074,597.7 2075,597.8 2076,597.9 2077,598.1 2078,598.2 2079,598.3 2080,598.5 2081,598.6 2082,598.8 2083,598.9 2084,599.1 2085,599.2 2086,599.3 2087,599.5 2088,599.6 2089,599.8 2090,599.9 2091,600.1 2092,600.2 2093,600.4 2094,600.5 2095,600.7 2096,600.8 2097,600.9 2098,601.1 2099,601.2 2100,601.4 2101,601.5 2102,601.7 2103,601.8 2104,602 2105,602.1 2106,602.2 2107,602.4 2108,602.5 2109,602.7 2110,602.8 2111,602.9 2112,603.1 2113,603.2 2114,603.3 2115,603.5 2116,603.6 2117,603.7 2118,603.9 2119,604 2120,604.1 2121,604.3 2122,604.4 2123,604.5 2124,604.6 2125,604.8 2126,604.9 2127,605 2128,605.1 2129,605.2 2130,605.3 2131,605.5 2132,605.6 2133,605.7 2134,605.8 2135,605.9 2136,606 2137,606.1 2138,606.2 2139,606.3 2140,606.4 2141,606.5 2142,606.6 2143,606.7 2144,606.8 2145,606.9 2146,607 2147,607.1 2148,607.2 2149,607.3 2150,607.4 2151,607.5 2152,607.6 2153,607.7 2154,607.8 2155,607.9 2156,607.9 2157,608 2158,608.1 2159,608.2 2160,608.3 2161,608.4 2162,608.4 2163,608.5 2164,608.6 2165,608.7 2166,608.7 2167,608.8 2168,608.9 2169,609 2170,609 2171,609.1 2172,609.2 2173,609.2 2174,609.3 2175,609.4 2176,609.4 2177,609.5 2178,609.6 2179,609.6 2180,609.7 2181,609.8 2182,609.8 2183,609.9 2184,610 2185,610 2186,610.1 2187,610.1 2188,610.2 2189,610.3 2190,610.3 2191,610.4 2192,610.4 2193,610.5 2194,610.6 2195,610.6 2196,610.7 2197,610.7 2198,610.8 2199,610.8 2200,610.9 2201,610.9 2202,611 2203,611 2204,611.1 2205,611.1 2206,611.2 2207,611.2 2208,611.3 2209,611.3 2210,611.4 2211,611.4 2212,611.5 2213,611.5 2214,611.6 2215,611.6 2216,611.7 2217,611.7 2218,611.8 2219,611.8 2220,611.9 2221,611.9 2222,611.9 2223,612 2224,612 2225,612.1 2226,612.1 2227,612.1 2228,612.2 2229,612.2 2230,612.3 2231,612.3 2232,612.3 2233,612.4 2234,612.4 2235,612.4 2236,612.5 2237,612.5 2238,612.6 2239,612.6 2240,612.6 2241,612.7 2242,612.7 2243,612.7 2244,612.8 2245,612.8 2246,612.8 2247,612.8 2248,612.9 2249,612.9 2250,612.9 2251,613 2252,613 2253,613 2254,613 2255,613.1 2256,613.1 2257,613.1 2258,613.1 2259,613.2 2260,613.2 2261,613.2 2262,613.2 2263,613.3 2264,613.3 2265,613.3 2266,613.3 2267,613.4 2268,613.4 2269,613.4 2270,613.4 2271,613.4 2272,613.4 2273,613.5 2274,613.5 2275,613.5 2276,613.5 2277,613.5 2278,613.5 2279,613.6 2280,613.6 2281,613.6 2282,613.6 2283,613.6 2284,613.6 2285,613.6 2286,613.7 2287,613.7 2288,613.7 2289,613.7 2290,613.7 2291,613.7 2292,613.7 2293,613.7 2294,613.7 2295,613.8 2296,613.8 2297,613.8 2298,613.8 2299,613.8 2300,613.8 2301,613.8 2302,613.8 2303,613.8 2304,613.8 2305,613.8 2306,613.8 2307,613.9 2308,613.9 2309,613.9 2310,613.9 2311,613.9 2312,613.9 2313,613.9 2314,613.9 2315,613.9 2316,613.9 2317,613.9 2318,613.9 2319,613.9 2320,613.9 2321,613.9 2322,613.9 2323,613.9 2324,613.9 2325,613.9 2326,613.9 2327,613.9 2328,613.9 2329,613.9 2330,613.9 2331,614 2332,614 2333,614 2334,614 2335,614 2336,614 2337,614 2338,614 2339,614 2340,614 2341,614 2342,614 2343,614 2344,614 2345,614 2346,614 2347,614 2348,614 2349,614 2350,614 2351,614 2352,614 2353,614 2354,614 2355,614 2356,614 2357,614 2358,614 2359,614 2360,614 2361,614 2362,614 2363,614 2364,614 2365,614 2366,614 2367,614 2368,614 2369,614 2370,614 2371,614 2372,614 2373,614 2374,614 2375,614 2376,614 2377,614 2378,614 2379,614 2380,614 2381,614 2382,614 2383,614 2384,614 2385,614 2386,614 2387,614 2388,614 2389,614 2390,614 2391,614 2392,614 2393,614 2394,614 2395,614 2396,614 2397,614 2398,614 2399,614 2400,614 2401,614 2402,614 2403,614 2404,614 2405,614 2406,614 2407,614 2408,614 2409,614 2410,614 2411,614 2412,614 2413,614 2414,614 2415,614 2416,614 2417,614 2418,614 2419,614 2420,614 2421,614 2422,614 2423,614 2424,614 2425,614 2426,614 2427,614 2428,614 2429,614 2430,614 2431,614 2432,614 2433,614 2434,614 2435,614 2436,614 2437,614 2438,614 2439,614 2440,614 2441,614 2442,614 2443,614 2444,614 2445,614 2446,614 2447,614 2448,614 2449,614 2450,614 2451,614 2452,614 2453,614 2454,614 2455,614 2456,614 2457,614 2458,614 2459,614 2460,614 2461,614 2462,614 2463,614 2464,614 2465,614 2466,614"/>
<polyline clip-path="url(#clipc)" fill="none" stroke-linejoin="round" stroke="#ff0000" stroke-width="6.5" points="1732,574.9 1733,575.2 1734,575.4 1735,575.6 1736,575.8 1737,576 1738,576.2 1739,576.4 1740,576.6 1741,576.8 1742,577 1743,577.2 1744,577.4 1745,577.6 1746,577.8 1747,577.9 1748,578.1 1749,578.3 1750,578.5 1751,578.6 1752,578.8 1753,579 1754,579.1 1755,579.3 1756,579.5 1757,579.6 1758,579.8 1759,579.9 1760,580.1 1761,580.2 1762,580.4 1763,580.5 1764,580.7 1765,580.8 1766,581 1767,581.1 1768,581.2 1769,581.4 1770,581.5 1771,581.6 1772,581.8 1773,581.9 1774,582 1775,582.1 1776,582.3 1777,582.4 1778,582.5 1779,582.6 1780,582.7 1781,582.9 1782,583 1783,583.1 1784,583.2 1785,583.3 1786,583.4 1787,583.5 1788,583.6 1789,583.7 1790,583.8 1791,583.9 1792,584 1793,584.1 1794,584.2 1795,584.3 1796,584.4 1797,584.5 1798,584.6 1799,584.7 1800,584.8 1801,584.9 1802,585 1803,585.1 1804,585.1 1805,585.2 1806,585.3 1807,585.4 1808,585.5 1809,585.5 1810,585.6 1811,585.7 1812,585.8 1813,585.9 1814,585.9 1815,586 1816,586.1 1817,586.1 1818,586.2 1819,586.3 1820,586.4 1821,586.4 1822,586.5 1823,586.6 1824,586.6 1825,586.7 1826,586.7 1827,586.8 1828,586.9 1829,586.9 1830,587 1831,587.1 1832,587.1 1833,587.2 1834,587.2 1835,587.3 1836,587.3 1837,587.4 1838,587.4 1839,587.5 1840,587.6 1841,587.6 1842,587.7 1843,587.7 1844,587.8 1845,587.8 1846,587.9 1847,587.9 1848,587.9 1849,588 1850,588 1851,588.1 1852,588.1 1853,588.2 1854,588.2 1855,588.3 1856,588.3 1857,588.3 1858,588.4 1859,588.4 1860,588.5 1861,588.5 1862,588.5 1863,588.6 1864,588.6 1865,588.6 1866,588.7 1867,588.7 1868,588.8 1869,588.8 1870,588.8 1871,588.8 1872,588.9 1873,588.9 1874,588.9 1875,589 1876,589 1877,589 1878,589.1 1879,589.1 1880,589.1 1881,589.1 1882,589.1 1883,589.2 1884,589.2 1885,589.2 1886,589.2 1887,589.3 1888,589.3 1889,589.3 1890,589.3 1891,589.3 1892,589.3 1893,589.3 1894,589.3 1895,589.4 1896,589.4 1897,589.4 1898,589.4 1899,589.4 1900,589.4 1901,589.4 1902,589.4 1903,589.4 1904,589.3 1905,589.3 1906,589.3 1907,589.3 1908,589.3 1909,589.3 1910,589.2 1911,589.2 1912,589.2 1913,589.1 1914,589.1 1915,589.1 1916,589 1917,588.9 1918,588.9 1919,588.8 1920,588.8 1921,588.7 1922,588.6 1923,588.5 1924,588.4 1925,588.3 1926,588.2 1927,588.1 1928,588 1929,587.9 1930,587.7 1931,587.6 1932,587.4 1933,587.2 1934,587.1 1935,586.9 1936,586.7 1937,586.5 1938,586.2 1939,586 1940,585.7 1941,585.5 1942,585.2 1943,584.9 1944,584.6 1945,584.3 1946,583.9 1947,583.5 1948,583.2 1949,582.8 1950,582.3 1951,581.9 1952,581.4 1953,580.9 1954,580.4 1955,579.8 1956,579.3 1957,578.7 1958,578 1959,577.4 1960,576.7 1961,576 1962,575.2 1963,574.4 1964,573.6 1965,572.8 1966,571.9 1967,570.9 1968,570 1969,569 1970,567.9 1971,566.8 1972,565.7 1973,564.5 1974,563.2 1975,561.9 1976,560.6 1977,559.2 1978,557.8 1979,556.3 1980,554.7 1981,553.1 1982,551.4 1983,549.7 1984,547.9 1985,546.1 1986,544.2 1987,542.2 1988,540.1 1989,538 1990,535.8 1991,533.6 1992,531.2 1993,528.9 1994,526.4 1995,523.8 1996,521.2 1997,518.5 1998,515.7 1999,512.9 2000,510 2001,507 2002,503.9 2003,500.7 2004,497.4 2005,494.1 2006,490.7 2007,487.2 2008,483.6 2009,479.9 2010,476.2 2011,472.3 2012,468.4 2013,464.4 2014,460.3 2015,456.1 2016,451.9 2017,447.5 2018,443.1 2019,438.6 2020,434.1 2021,429.4 2022,424.7 2023,419.9 2024,415 2025,410.1 2026,405.1 2027,400 2028,394.9 2029,389.6 2030,384.4 2031,379.1 2032,373.7 2033,368.2 2034,362.8 2035,357.2 2036,351.7 2037,346 2038,340.4 2039,334.7 2040,329 2041,323.3 2042,317.5 2043,311.8 2044,306 2045,300.2 2046,294.4 2047,288.6 2048,282.8 2049,277 2050,271.3 2051,265.5 2052,259.8 2053,254.1 2054,248.5 2055,242.9 2056,237.3 2057,231.8 2058,226.4 2059,221 2060,215.7 2061,210.5 2062,205.3 2063,200.2 2064,195.3 2065,190.4 2066,185.6 2067,180.9 2068,176.4 2069,171.9 2070,167.6 2071,163.5 2072,159.4 2073,155.5 2074,151.7 2075,148.1 2076,144.7 2077,141.4 2078,138.3 2079,135.4 2080,132.6 2081,130 2082,127.6 2083,125.4 2084,123.4 2085,121.6 2086,120 2087,118.6 2088,117.5 2089,116.6 2090,116 2091,115.7 2092,115.6 2093,115.8 2094,116.2 2095,116.7 2096,117.5 2097,118.5 2098,119.7 2099,121 2100,122.5 2101,124.2 2102,126.1 2103,128.1 2104,130.3 2105,132.6 2106,135.1 2107,137.7 2108,140.5 2109,143.3 2110,146.3 2111,149.5 2112,152.7 2113,156 2114,159.4 2115,163 2116,166.6 2117,170.3 2118,174.1 2119,177.9 2120,181.8 2121,185.8 2122,189.8 2123,193.9 2124,198 2125,202.2 2126,206.4 2127,210.6 2128,214.9 2129,219.2 2130,223.5 2131,227.8 2132,232.1 2133,236.4 2134,240.7 2135,245 2136,249.3 2137,253.6 2138,257.9 2139,262.1 2140,266.3 2141,270.5 2142,274.7 2143,278.8 2144,282.9 2145,287 2146,291 2147,295 2148,298.9 2149,302.8 2150,306.7 2151,310.5 2152,314.2 2153,317.9 2154,321.5 2155,325.1 2156,328.6 2157,332.1 2158,335.5 2159,338.9 2160,342.2 2161,345.4 2162,348.6 2163,351.8 2164,354.8 2165,357.8 2166,360.8 2167,363.7 2168,366.6 2169,369.4 2170,372.1 2171,374.8 2172,377.5 2173,380 2174,382.6 2175,385.1 2176,387.5 2177,389.9 2178,392.3 2179,394.6 2180,396.9 2181,399.1 2182,401.3 2183,403.4 2184,405.6 2185,407.6 2186,409.7 2187,411.7 2188,413.7 2189,415.6 2190,417.6 2191,419.5 2192,421.3 2193,423.2 2194,425 2195,426.8 2196,428.6 2197,430.3 2198,432.1 2199,433.8 2200,435.5 2201,437.2 2202,438.8 2203,440.5 2204,442.2 2205,443.8 2206,445.4 2207,447.1 2208,448.7 2209,450.3 2210,451.9 2211,453.5 2212,455.2 2213,456.8 2214,458.4 2215,460 2216,461.6 2217,463.3 2218,464.9 2219,466.5 2220,468.1 2221,469.8 2222,471.4 2223,473.1 2224,474.7 2225,476.4 2226,478 2227,479.7 2228,481.4 2229,483.1 2230,484.7 2231,486.4 2232,488.1 2233,489.8 2234,491.5 2235,493.2 2236,494.9 2237,496.6 2238,498.4 2239,500.1 2240,501.8 2241,503.5 2242,505.2 2243,507 2244,508.7 2245,510.4 2246,512.1 2247,513.8 2248,515.5 2249,517.3 2250,519 2251,520.7 2252,522.4 2253,524.1 2254,525.7 2255,527.4 2256,529.1 2257,530.8 2258,532.4 2259,534.1 2260,535.7 2261,537.3 2262,538.9 2263,540.5 2264,542.1 2265,543.7 2266,545.3 2267,546.8 2268,548.3 2269,549.9 2270,551.4 2271,552.8 2272,554.3 2273,555.8 2274,557.2 2275,558.6 2276,560 2277,561.4 2278,562.8 2279,564.1 2280,565.4 2281,566.7 2282,568 2283,569.3 2284,570.5 2285,571.7 2286,572.9 2287,574.1 2288,575.2 2289,576.4 2290,577.5 2291,578.6 2292,579.7 2293,580.7 2294,581.7 2295,582.7 2296,583.7 2297,584.7 2298,585.6 2299,586.5 2300,587.4 2301,588.3 2302,589.2 2303,590 2304,590.8 2305,591.6 2306,592.4 2307,593.2 2308,593.9 2309,594.6 2310,595.3 2311,596 2312,596.6 2313,597.3 2314,597.9 2315,598.5 2316,599.1 2317,599.7 2318,600.2 2319,600.8 2320,601.3 2321,601.8 2322,602.3 2323,602.7 2324,603.2 2325,603.6 2326,604.1 2327,604.5 2328,604.9 2329,605.3 2330,605.6 2331,606 2332,606.3 2333,606.7 2334,607 2335,607.3 2336,607.6 2337,607.9 2338,608.1 2339,608.4 2340,608.7 2341,608.9 2342,609.1 2343,609.4 2344,609.6 2345,609.8 2346,610 2347,610.2 2348,610.4 2349,610.5 2350,610.7 2351,610.9 2352,611 2353,611.2 2354,611.3 2355,611.5 2356,611.6 2357,611.7 2358,611.8 2359,611.9 2360,612 2361,612.1 2362,612.2 2363,612.3 2364,612.4 2365,612.5 2366,612.6 2367,612.7 2368,612.7 2369,612.8 2370,612.9 2371,612.9 2372,613 2373,613.1 2374,613.1 2375,613.2 2376,613.2 2377,613.3 2378,613.3 2379,613.3 2380,613.4 2381,613.4 2382,613.4 2383,613.5 2384,613.5 2385,613.5 2386,613.6 2387,613.6 2388,613.6 2389,613.6 2390,613.7 2391,613.7 2392,613.7 2393,613.7 2394,613.7 2395,613.8 2396,613.8 2397,613.8 2398,613.8 2399,613.8 2400,613.8 2401,613.8 2402,613.8 2403,613.9 2404,613.9 2405,613.9 2406,613.9 2407,613.9 2408,613.9 2409,613.9 2410,613.9 2411,613.9 2412,613.9 2413,613.9 2414,613.9 2415,613.9 2416,613.9 2417,613.9 2418,613.9 2419,614 2420,614 2421,614 2422,614 2423,614 2424,614 2425,614 2426,614 2427,614 2428,614 2429,614 2430,614 2431,614 2432,614 2433,614 2434,614 2435,614 2436,614 2437,614 2438,614 2439,614 2440,614 2441,614 2442,614 2443,614 2444,614 2445,614 2446,614 2447,614 2448,614 2449,614 2450,614 2451,614 2452,614 2453,614 2454,614 2455,614 2456,614 2457,614 2458,614 2459,614 2460,614 2461,614 2462,614 2463,614 2464,614 2465,614 2466,614"/>
<g stroke="#808080" stroke-width="2" stroke-dasharray="24 2.5" fill="none">
<line x1="1152.7" y1="45.5" x2="1152.7" y2="253"/>
<line x1="1477.4" y1="48" x2="1477.4" y2="145"/>
</g>
<g stroke="#000" stroke-width="3" fill="none"><line x1="1153" y1="108.8" x2="1226" y2="108.8"/><line x1="1418" y1="108.8" x2="1477" y2="108.8"/></g>
<path d="M1242,108.8 L1218,96 L1224,108.8 L1218,122.5 Z" fill="#000"/>
<path d="M1403.4,108.8 L1425,96 L1419.5,108.8 L1425,122.5 Z" fill="#000"/>
</g>
<g id="frames">
<rect x="91.5" y="31.5" width="737.5" height="595.0" fill="none" stroke="#1c1c1c" stroke-width="4.0"/>
<rect x="913.0" y="31.5" width="737.7" height="595.0" fill="none" stroke="#1c1c1c" stroke-width="4.0"/>
<rect x="1731.0" y="31.5" width="735.6999999999998" height="595.0" fill="none" stroke="#1c1c1c" stroke-width="4.0"/>
<path d="M828.6,626.5 v11.0 M773.7,626.5 v5.5 M718.9,626.5 v11.0 M664,626.5 v5.5 M609.1,626.5 v11.0 M554.2,626.5 v5.5 M499.4,626.5 v11.0 M444.5,626.5 v5.5 M389.6,626.5 v11.0 M334.7,626.5 v5.5 M279.9,626.5 v11.0 M225,626.5 v5.5 M170.1,626.5 v11.0 M115.2,626.5 v5.5 M939.5,626.5 v11.0 M985.6,626.5 v5.5 M1031.8,626.5 v11.0 M1078,626.5 v5.5 M1124.1,626.5 v11.0 M1170.2,626.5 v5.5 M1216.4,626.5 v11.0 M1262.5,626.5 v5.5 M1308.7,626.5 v11.0 M1354.8,626.5 v5.5 M1401,626.5 v11.0 M1447.2,626.5 v5.5 M1493.3,626.5 v11.0 M1539.5,626.5 v5.5 M1585.6,626.5 v11.0 M1631.8,626.5 v5.5 M1730.8,626.5 v11.0 M1792,626.5 v5.5 M1853.3,626.5 v11.0 M1914.5,626.5 v5.5 M1975.8,626.5 v11.0 M2037,626.5 v5.5 M2098.3,626.5 v11.0 M2159.5,626.5 v5.5 M2220.8,626.5 v11.0 M2282,626.5 v5.5 M2343.2,626.5 v11.0 M2404.5,626.5 v5.5 M2465.7,626.5 v11.0" stroke="#1c1c1c" stroke-width="3.2" fill="none"/>
</g>
<line x1="916" y1="416.1" x2="989.5" y2="416.1" stroke="#111" stroke-width="3.8"/>
<text x="997.1" y="426.3" class="lg" stroke-width="0.6">Raw</text>
<line x1="916" y1="454.5" x2="989.5" y2="454.5" stroke="#e040e0" stroke-width="3.8"/>
<text x="997.1" y="464.7" class="lg" stroke-width="0.6">Ni 2p<tspan class="sub">3/2</tspan></text>
<line x1="916" y1="492.9" x2="989.5" y2="492.9" stroke="#7a1480" stroke-width="3.8"/>
<text x="997.1" y="503.1" class="lg" stroke-width="0.6">Sat.</text>
<line x1="916" y1="531.3" x2="989.5" y2="531.3" stroke="#2f6fd6" stroke-width="3.8"/>
<text x="997.1" y="541.5" class="lg" stroke-width="0.6">Ni 2p<tspan class="sub">1/2</tspan></text>
<line x1="916" y1="569.7" x2="989.5" y2="569.7" stroke="#35a06c" stroke-width="3.8"/>
<text x="997.1" y="579.9" class="lg" stroke-width="0.6">Sat.</text>
<line x1="916" y1="608.1" x2="989.5" y2="608.1" stroke="#ff0000" stroke-width="6.2"/>
<text x="997.1" y="618.3" class="lg" stroke-width="0.6">Fitted line</text>
<line x1="1744.3" y1="190.7" x2="1808" y2="190.7" stroke="#222" stroke-width="3.8"/>
<text x="1816.9" y="200.7" class="lg" stroke-width="0.6">Raw</text>
<line x1="1744.3" y1="228.8" x2="1808" y2="228.8" stroke="#8a8a1e" stroke-width="3.8"/>
<text x="1816.9" y="238.8" class="lg" stroke-width="0.6">Ni-O bond</text>
<line x1="1744.3" y1="266.9" x2="1808" y2="266.9" stroke="#2f6fd6" stroke-width="3.8"/>
<text x="1816.9" y="276.9" class="lg" stroke-width="0.6">Lattice oxygen</text>
<line x1="1744.3" y1="305" x2="1808" y2="305" stroke="#a040b0" stroke-width="3.8"/>
<text x="1816.9" y="315" class="lg" stroke-width="0.6">Baseline</text>
<line x1="1744.3" y1="343.1" x2="1808" y2="343.1" stroke="#ff0000" stroke-width="6.2"/>
<text x="1816.9" y="353.1" class="lg" stroke-width="0.6">Fitted line</text>
<text x="219.29" y="722.00" font-size="59.25" class="r" stroke-width="1.2" textLength="490.01" lengthAdjust="spacingAndGlyphs">Binding energy (eV)</text>
<text x="1051.80" y="721.80" font-size="58.49" class="r" stroke-width="1.2" textLength="489.50" lengthAdjust="spacingAndGlyphs">Binding energy (eV)</text>
<text x="1882.79" y="721.80" font-size="58.49" class="r" stroke-width="1.2" textLength="489.91" lengthAdjust="spacingAndGlyphs">Binding energy (eV)</text>
<text transform="translate(66.10,489.73) rotate(-90)" font-size="57.88" class="r" stroke-width="1.2" textLength="345.83" lengthAdjust="spacingAndGlyphs">Intensity (a.u.)</text>
<text transform="translate(885.10,489.74) rotate(-90)" font-size="57.88" class="r" stroke-width="1.2" textLength="346.54" lengthAdjust="spacingAndGlyphs">Intensity (a.u.)</text>
<text transform="translate(1701.80,489.74) rotate(-90)" font-size="57.88" class="r" stroke-width="1.2" textLength="346.54" lengthAdjust="spacingAndGlyphs">Intensity (a.u.)</text>
<text x="821.05" y="669.25" font-size="35.49" class="b" stroke-width="0.7" textLength="15.10" lengthAdjust="spacingAndGlyphs">0</text>
<text x="694.28" y="669.25" font-size="35.49" class="b" stroke-width="0.7" textLength="49.02" lengthAdjust="spacingAndGlyphs">200</text>
<text x="585.46" y="669.25" font-size="35.49" class="b" stroke-width="0.7" textLength="48.06" lengthAdjust="spacingAndGlyphs">400</text>
<text x="475.04" y="669.25" font-size="35.49" class="b" stroke-width="0.7" textLength="48.75" lengthAdjust="spacingAndGlyphs">600</text>
<text x="365.32" y="669.25" font-size="35.49" class="b" stroke-width="0.7" textLength="48.72" lengthAdjust="spacingAndGlyphs">800</text>
<text x="246.16" y="669.25" font-size="35.49" class="b" stroke-width="0.7" textLength="66.00" lengthAdjust="spacingAndGlyphs">1000</text>
<text x="136.41" y="669.25" font-size="35.49" class="b" stroke-width="0.7" textLength="66.00" lengthAdjust="spacingAndGlyphs">1200</text>
<text x="914.44" y="669.85" font-size="33.83" class="b" stroke-width="0.7" textLength="50.24" lengthAdjust="spacingAndGlyphs">885</text>
<text x="1006.74" y="669.85" font-size="33.83" class="b" stroke-width="0.7" textLength="50.29" lengthAdjust="spacingAndGlyphs">880</text>
<text x="1099.04" y="669.85" font-size="33.83" class="b" stroke-width="0.7" textLength="50.24" lengthAdjust="spacingAndGlyphs">875</text>
<text x="1191.34" y="669.85" font-size="33.83" class="b" stroke-width="0.7" textLength="50.29" lengthAdjust="spacingAndGlyphs">870</text>
<text x="1283.64" y="669.85" font-size="33.83" class="b" stroke-width="0.7" textLength="50.24" lengthAdjust="spacingAndGlyphs">865</text>
<text x="1375.94" y="669.85" font-size="33.83" class="b" stroke-width="0.7" textLength="50.29" lengthAdjust="spacingAndGlyphs">860</text>
<text x="1468.24" y="669.85" font-size="33.83" class="b" stroke-width="0.7" textLength="50.24" lengthAdjust="spacingAndGlyphs">855</text>
<text x="1560.54" y="669.85" font-size="33.83" class="b" stroke-width="0.7" textLength="50.29" lengthAdjust="spacingAndGlyphs">850</text>
<text x="1705.82" y="668.85" font-size="34.44" class="b" stroke-width="0.7" textLength="49.90" lengthAdjust="spacingAndGlyphs">540</text>
<text x="1828.32" y="668.85" font-size="34.44" class="b" stroke-width="0.7" textLength="49.42" lengthAdjust="spacingAndGlyphs">537</text>
<text x="1950.82" y="668.85" font-size="34.44" class="b" stroke-width="0.7" textLength="49.22" lengthAdjust="spacingAndGlyphs">534</text>
<text x="2073.28" y="668.85" font-size="34.44" class="b" stroke-width="0.7" textLength="50.38" lengthAdjust="spacingAndGlyphs">531</text>
<text x="2195.78" y="668.85" font-size="34.44" class="b" stroke-width="0.7" textLength="49.73" lengthAdjust="spacingAndGlyphs">528</text>
<text x="2318.27" y="668.85" font-size="34.44" class="b" stroke-width="0.7" textLength="49.85" lengthAdjust="spacingAndGlyphs">525</text>
<text x="2440.75" y="668.85" font-size="34.44" class="b" stroke-width="0.7" textLength="50.07" lengthAdjust="spacingAndGlyphs">522</text>
<text x="100.98" y="94.79" font-size="68.38" class="b" stroke-width="0.7" textLength="76.14" lengthAdjust="spacingAndGlyphs">(a)</text>
<text x="922.55" y="94.53" font-size="67.28" class="b" stroke-width="0.7" textLength="78.01" lengthAdjust="spacingAndGlyphs">(b)</text>
<text x="1740.80" y="94.79" font-size="68.38" class="b" stroke-width="0.7" textLength="77.00" lengthAdjust="spacingAndGlyphs">(c)</text>
<text x="1499.55" y="87.90" font-size="60.17" class="r" stroke-width="1.2" textLength="136.62" lengthAdjust="spacingAndGlyphs">Ni 2p</text>
<text x="2340.86" y="87.82" font-size="59.57" class="r" stroke-width="1.2" textLength="110.69" lengthAdjust="spacingAndGlyphs">O 1s</text>
<text x="1246.61" y="129.15" font-size="53.18" class="r" stroke-width="0.7" textLength="156.19" lengthAdjust="spacingAndGlyphs">17.7 eV</text>
<text x="2125.56" y="163.80" font-size="52.57" class="r" stroke-width="0.8" textLength="185.20" lengthAdjust="spacingAndGlyphs">531.2 eV</text>
<text x="2247.07" y="487.60" font-size="53.63" class="r" stroke-width="0.8" textLength="184.59" lengthAdjust="spacingAndGlyphs">528.6 eV</text>
<text transform="translate(347.00,218.85) rotate(-90)" font-size="51.31" class="r" stroke-width="1.2" textLength="113.22" lengthAdjust="spacingAndGlyphs">Ni 2p</text>
<text transform="translate(347.50,106.39) rotate(-90)" font-size="37.01" class="r" stroke-width="1.0" textLength="45.25" lengthAdjust="spacingAndGlyphs">3/2</text>
<text transform="translate(404.40,202.15) rotate(-90)" font-size="50.40" class="r" stroke-width="1.2" textLength="113.52" lengthAdjust="spacingAndGlyphs">Ni 2p</text>
<text transform="translate(404.30,90.21) rotate(-90)" font-size="32.02" class="r" stroke-width="1.0" textLength="46.73" lengthAdjust="spacingAndGlyphs">1/2</text>
<text transform="translate(554.41,338.85) rotate(-90)" font-size="50.47" class="r" stroke-width="1.2" textLength="93.06" lengthAdjust="spacingAndGlyphs">O 1s</text>
<text transform="translate(768.90,563.87) rotate(-90)" font-size="50.86" class="r" stroke-width="1.2" textLength="109.32" lengthAdjust="spacingAndGlyphs">Ni 3s</text>
<text transform="translate(811.90,552.17) rotate(-90)" font-size="49.79" class="r" stroke-width="1.2" textLength="114.66" lengthAdjust="spacingAndGlyphs">Ni 3p</text>
</svg>
</body></html>
